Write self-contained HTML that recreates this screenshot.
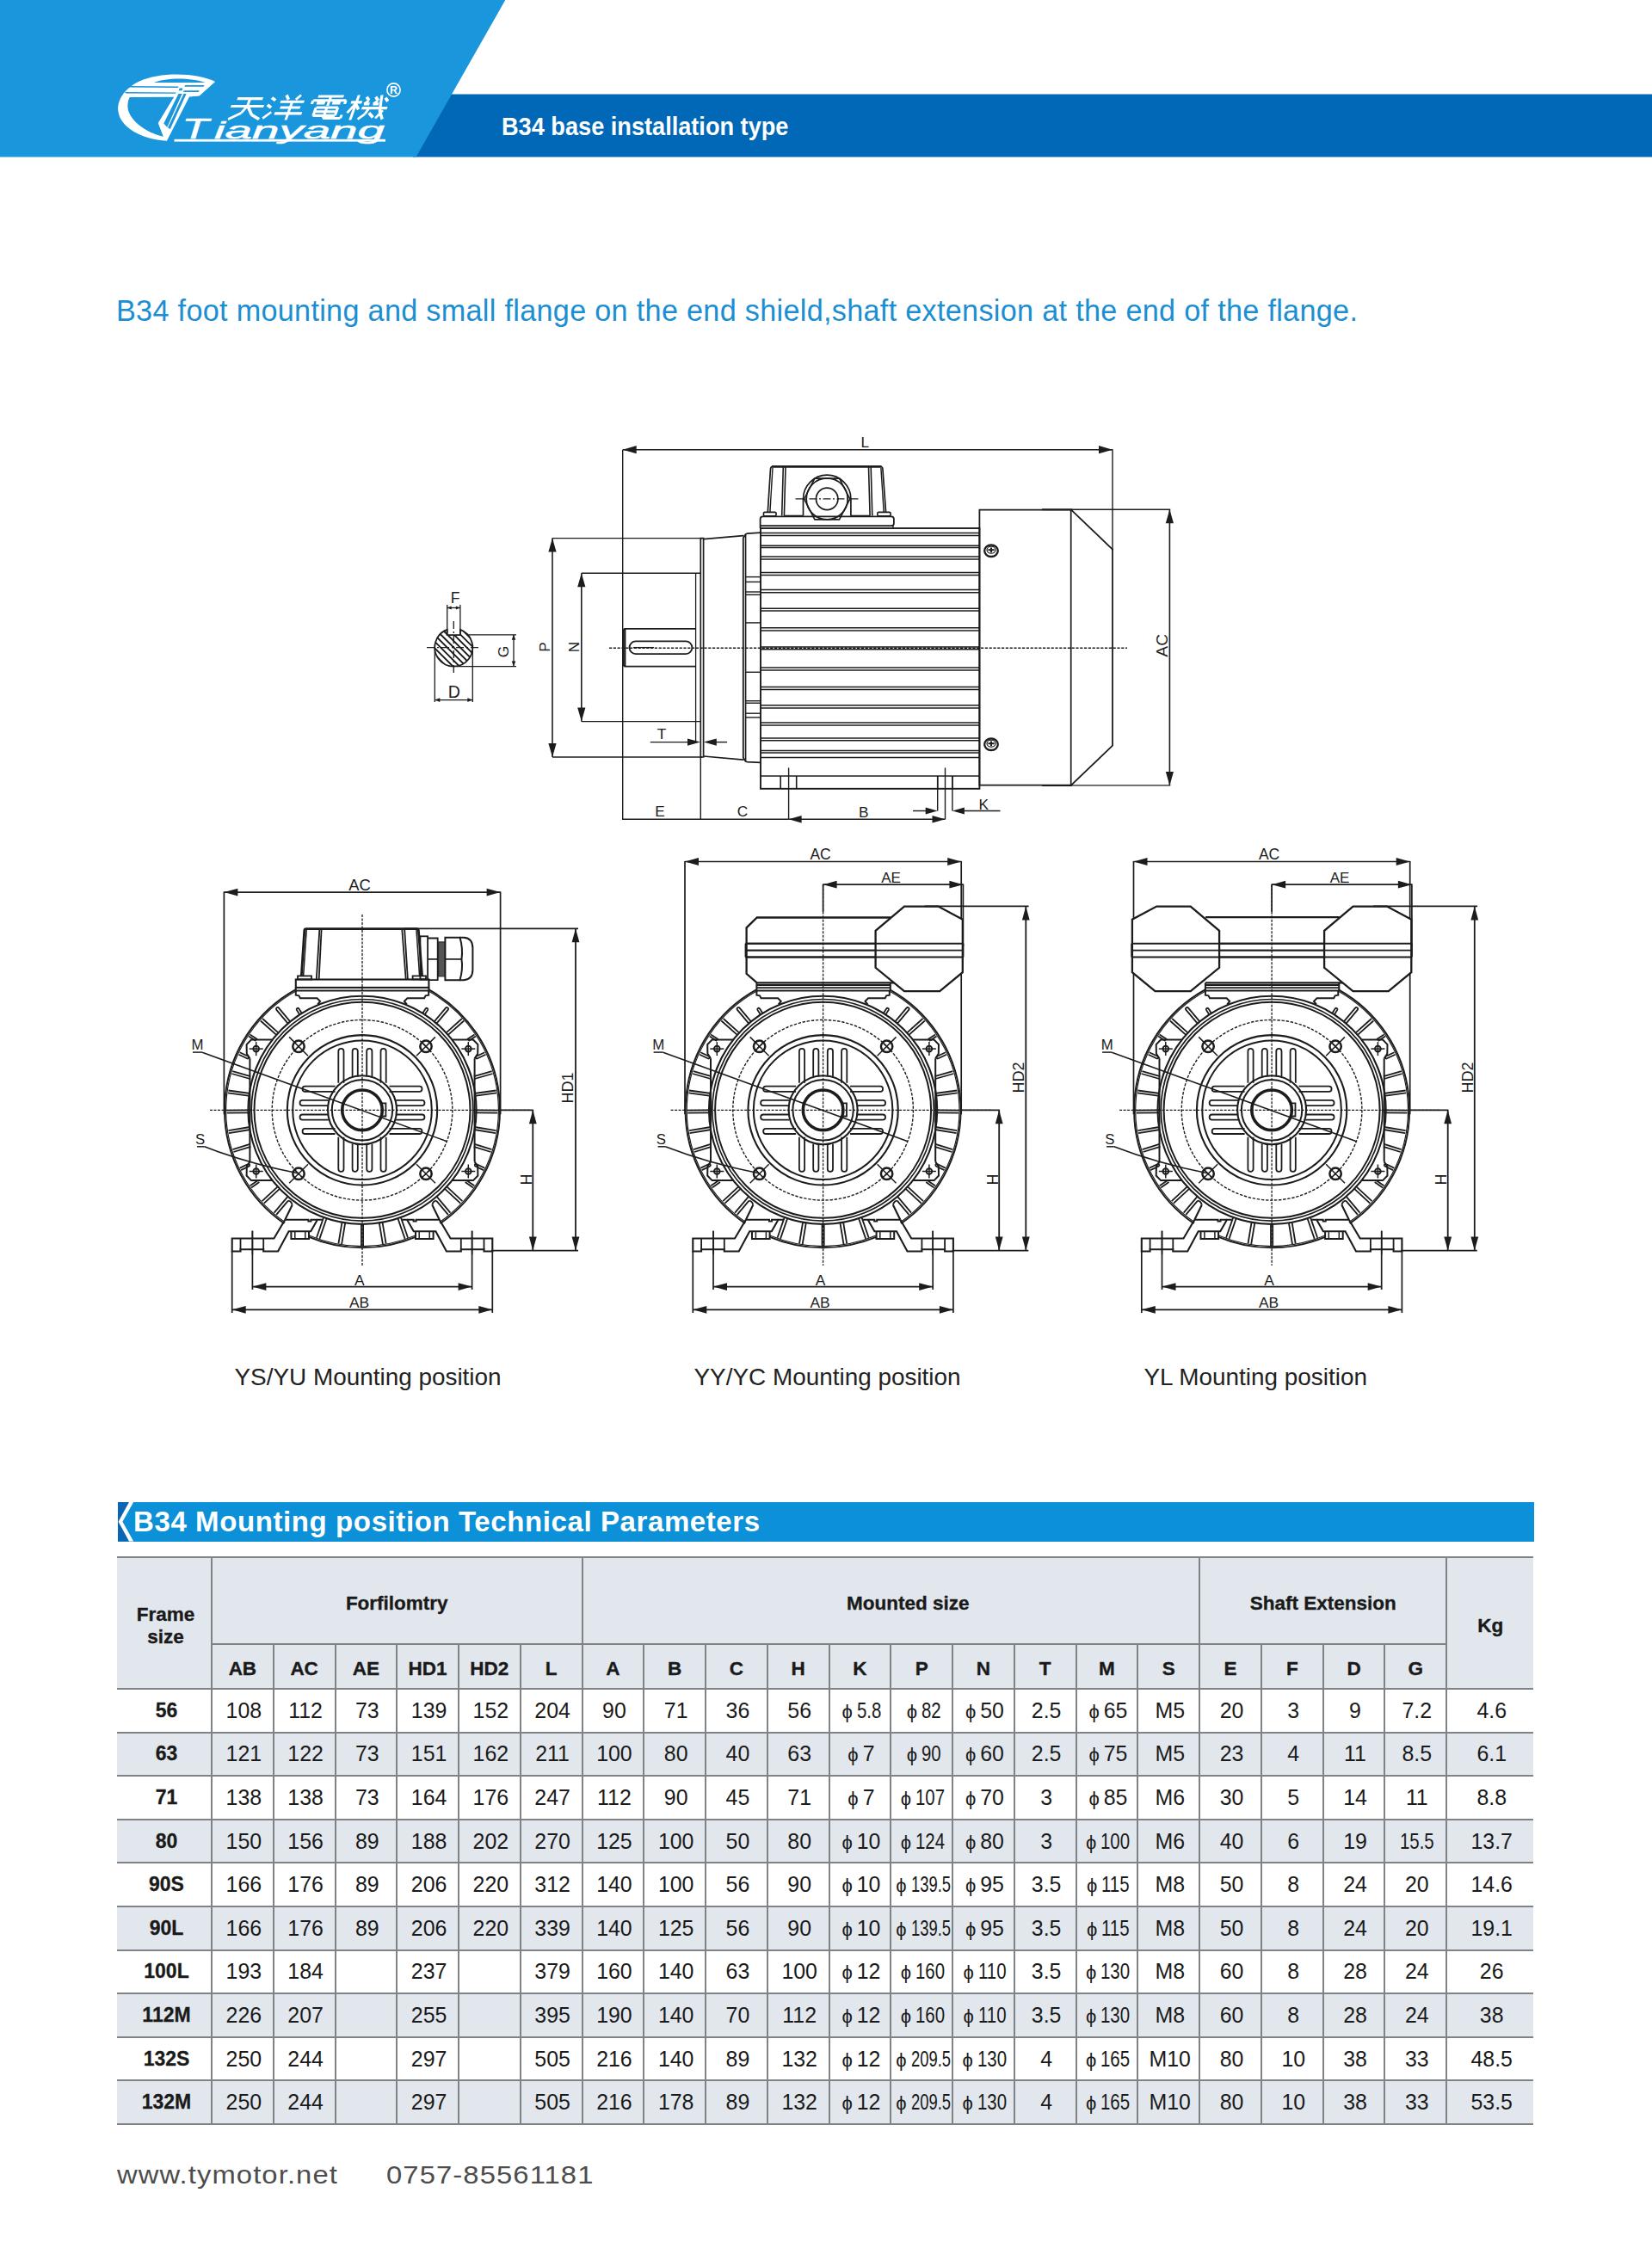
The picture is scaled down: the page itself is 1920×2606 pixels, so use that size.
<!DOCTYPE html>
<html><head><meta charset="utf-8"><title>B34 base installation type</title>
<style>
html,body{margin:0;padding:0;background:#fff}
body{width:1920px;height:2606px;position:relative;overflow:hidden;font-family:"Liberation Sans",sans-serif;color:#1a1a1a}
.abs{position:absolute;white-space:nowrap}
#hdr{position:absolute;left:0;top:0;width:1920px;height:200px}
#hl{left:135px;top:341.5px;font-size:34.2px;line-height:38px;color:#1c8ed2;letter-spacing:.31px}
#band{left:582.5px;top:126.5px;font-size:30px;line-height:40px;font-weight:700;color:#fff;transform-origin:0 50%;transform:scaleX(.905)}
.cap{font-size:27.9px;line-height:30px;color:#222}
#tbar{position:absolute;left:137px;top:1746.4px;width:1645.5px;height:45.3px;background:#0c90d8;overflow:hidden}
#tbar .t{position:absolute;left:18px;top:2.8px;font-size:33px;line-height:40px;font-weight:700;color:#fff;white-space:nowrap;letter-spacing:.6px}
table.tb{position:absolute;left:136px;top:1809px;width:1646px;border-collapse:collapse;table-layout:fixed;border-top:2px solid #808386;border-bottom:2px solid #808386}
.tb th,.tb td{border:2px solid #808386;padding:0;text-align:center;vertical-align:middle;white-space:nowrap;overflow:hidden}
.tb .nl{border-left:none}.tb .nr{border-right:none}
.tb th{background:#e2e7ed;font-weight:700;font-size:22.5px;color:#1a1a1a;-webkit-text-stroke:.35px #1a1a1a;line-height:26.5px}
.tb tr.h1 th{padding-top:7px}.tb tr.h2 th{padding-top:5.5px}.tb th.ms{padding-left:40px}.tb th.fs{padding-top:13px;padding-left:4px}
.tb tr.h1{height:101px}.tb tr.h2{height:52px}
.tb tr.d{height:50.6px}
.tb td{font-size:24.9px;padding-left:3px;color:#1a1a1a;background:#fff}
.tb tr.alt td{background:#e2e7ed}
.tb td.b{font-weight:700;font-size:23px;padding-left:6px;-webkit-text-stroke:.3px #1a1a1a}
.phi{font-size:22px;margin-right:5px}
.pn.nw{display:inline-block;transform:scaleX(.82);transform-origin:0 50%;margin-right:-7px}.pn.nw2{display:inline-block;transform:scaleX(.74);transform-origin:0 50%;margin-right:-17px}
#foot1,#foot2{font-size:30px;color:#4d4d4d;top:2511px;line-height:34px;letter-spacing:1px;transform-origin:0 50%;transform:scaleX(1.093)}
</style></head>
<body>
<svg id="hdr" viewBox="0 0 1920 200">
<rect x="480" y="109.5" width="1440" height="73" fill="#0068b7"/>
<polygon points="0,0 587.3,0 483.6,182.5 0,182.5" fill="#1996dc"/>
<g transform="translate(130 80) scale(0.09685)">
<path fill="#fff" d="M1240 155C1050 55 600 25 330 150C150 235 55 380 78 520C105 700 350 850 660 866L930 335L1050 326Z"/>
<path fill="#1996dc" d="M215 342L745 337L555 650L618 812C400 770 190 600 190 450C190 400 200 368 215 342Z"/>
<path fill="#1996dc" d="M505 166C650 102 950 102 1122 166Z"/>
<path fill="#1996dc" d="M228 206L800 211L795 226L202 222Z"/>
<path fill="#1996dc" d="M152 278L772 283L762 298L172 295Z"/>
<path fill="#1996dc" d="M880 197L1112 197L1100 213L870 213Z"/>
<path fill="#1996dc" d="M866 262L1052 262L1040 279L856 279Z"/>
<path fill="#1996dc" d="M800 300L843 300L664 700L622 656Z"/>
<path fill="#1996dc" d="M862 300L894 300L700 722L672 706Z"/>
<path fill="#1996dc" d="M812 232L850 232L842 262L802 262Z"/>
</g>
<g transform="translate(271 110.5) skewX(-20) scale(1.06 1.04)"><path d="M6 4L34 4M2 12.5L38 12.5M20 4L20 12M20 12L16 20M16 20L4 27M21 13L28 22M28 22L38 27" stroke="#fff" stroke-width="3" fill="none" stroke-linecap="butt"/></g>
<g transform="translate(315 110.5) skewX(-20) scale(1.06 1.04)"><path d="M2 3L7 6M0 11L5 14M0 26L7 19M17 0L21 5M33 0L29 5M13 7.5L39 7.5M15 14L37 14M11 20.5L41 20.5M26 7.5L26 28" stroke="#fff" stroke-width="3" fill="none" stroke-linecap="butt"/></g>
<g transform="translate(363 110.5) skewX(-20) scale(1.06 1.04)"><path d="M7 1.5L35 1.5M3 6L39 6M3 6L3 10M39 6L39 10M21 1.5L21 12M8 9L17 9M25 9L34 9M9 14L33 14M9 14L9 23M33 14L33 23M9 18.5L33 18.5M9 23L33 23M21 14L21 26M21 26L40 26M40 26L40 22" stroke="#fff" stroke-width="3" fill="none" stroke-linecap="butt"/></g>
<g transform="translate(411 110.5) skewX(-20) scale(1.06 1.04)"><path d="M0 8L12 8M6 0L6 28M6 9L0 20M6 10L11 16M15 2L19 6M19 6L15 10M15 10L21 10M25 2L29 6M29 6L25 10M25 10L31 10M14 14.5L42 14.5M31 0L35 18M35 18L41 27M22 15L20 21M20 21L14 27M24 20L30 25M36 3L40 7M38 17L33 26" stroke="#fff" stroke-width="3" fill="none" stroke-linecap="butt"/></g>
<circle cx="457.5" cy="104.5" r="7.6" stroke="#fff" stroke-width="1.6" fill="none"/>
<text x="457.6" y="109" font-size="12.5" font-weight="700" text-anchor="middle" fill="#fff" font-family="Liberation Sans, sans-serif">R</text>
<text x="211.5" y="161" font-size="33.5" font-style="italic" fill="#fff" stroke="#fff" stroke-width="0.6" font-family="Liberation Sans, sans-serif" textLength="31" lengthAdjust="spacingAndGlyphs">T</text>
<text x="249" y="161" font-size="28" font-style="italic" fill="#fff" stroke="#fff" stroke-width="0.5" font-family="Liberation Sans, sans-serif" textLength="198" lengthAdjust="spacingAndGlyphs">ianyang</text>
<rect x="202.5" y="161.8" width="245.5" height="2.8" fill="#fff"/>
</svg>
<div id="band" class="abs">B34 base installation type</div>
<div id="hl" class="abs">B34 foot mounting and small flange on the end shield,shaft extension at the end of the flange.</div>
<svg id="dw" viewBox="0 0 1920 2606" width="1920" height="2606" style="position:absolute;left:0;top:0" fill="none" stroke="#1c1c1c" stroke-linecap="butt" stroke-linejoin="miter">
<style>.t{font-family:"Liberation Sans",sans-serif;fill:#1c1c1c;stroke:none}.a{fill:#1c1c1c;stroke:none}</style>
<clipPath id="hc"><path d="M519.7 738.1L519.7 731.9A22 22 0 1 0 534.9 731.9L534.9 738.1Z"/></clipPath>
<path d="M421.3 722.6L481.3 782.6M428.9 722.6L488.9 782.6M436.5 722.6L496.5 782.6M444.1 722.6L504.1 782.6M451.7 722.6L511.7 782.6M459.3 722.6L519.3 782.6M466.9 722.6L526.9 782.6M474.5 722.6L534.5 782.6M482.1 722.6L542.1 782.6M489.7 722.6L549.7 782.6M497.3 722.6L557.3 782.6M504.9 722.6L564.9 782.6M512.5 722.6L572.5 782.6M520.1 722.6L580.1 782.6M527.7 722.6L587.7 782.6M535.3 722.6L595.3 782.6M542.9 722.6L602.9 782.6M550.5 722.6L610.5 782.6M558.1 722.6L618.1 782.6M565.7 722.6L625.7 782.6M573.3 722.6L633.3 782.6" stroke-width="1.9" clip-path="url(#hc)"/>
<path d="M519.7 738.1L519.7 731.9A22 22 0 1 0 534.9 731.9L534.9 738.1Z" stroke-width="1.8"/>
<path d="M496 752.6L558 752.6" stroke-width="1.3" stroke-dasharray="9 3 2 3"/>
<path d="M527.3 722L527.3 783" stroke-width="1.3" stroke-dasharray="9 3 2 3"/>
<path d="M519.7 737.6L519.7 703" stroke-width="1.3"/>
<path d="M534.9 737.6L534.9 703" stroke-width="1.3"/>
<path d="M519.7 706.5L534.9 706.5" stroke-width="1.3"/>
<path d="M519.7 706.5L524.7 704.5L524.7 708.5Z" class="a"/>
<path d="M534.9 706.5L529.9 708.5L529.9 704.5Z" class="a"/>
<text x="529" y="700.6" font-size="17.6" text-anchor="middle" class="t">F</text>
<path d="M545 737.8L600 737.8" stroke-width="1.3"/>
<path d="M531 774.6L600 774.6" stroke-width="1.3"/>
<path d="M597 737.8L597 774.6" stroke-width="1.3"/>
<path d="M597 737.8L599.3 743.8L594.7 743.8Z" class="a"/>
<path d="M597 774.6L594.7 768.6L599.3 768.6Z" class="a"/>
<text x="591" y="757.6" font-size="17.4" text-anchor="middle" transform="rotate(-90 591 757.6)" class="t">G</text>
<path d="M505.3 752.6L505.3 816" stroke-width="1.3"/>
<path d="M549.3 752.6L549.3 816" stroke-width="1.3"/>
<path d="M505.3 813.6L549.3 813.6" stroke-width="1.3"/>
<path d="M505.3 813.6L511.3 811.3L511.3 815.9Z" class="a"/>
<path d="M549.3 813.6L543.3 815.9L543.3 811.3Z" class="a"/>
<text x="527.8" y="810.8" font-size="19.6" text-anchor="middle" class="t">D</text>
<path d="M723.7 522.9L723.7 953" stroke-width="1.4"/>
<path d="M1293 522.3L1293 640" stroke-width="1.4"/>
<path d="M723.7 522.7L1293 522.7" stroke-width="1.4"/>
<path d="M723.7 522.7L739.7 518.1L739.7 527.3Z" class="a"/>
<path d="M1293 522.7L1277 527.3L1277 518.1Z" class="a"/>
<text x="1005.4" y="519.8" font-size="17.3" text-anchor="middle" class="t">L</text>
<path d="M642 625.6L816 625.6" stroke-width="1.4"/>
<path d="M642 880L816 880" stroke-width="1.4"/>
<path d="M642 625.6L642 880" stroke-width="1.6"/>
<path d="M642 625.6L646.6 641.6L637.4 641.6Z" class="a"/>
<path d="M642 880L637.4 864L646.6 864Z" class="a"/>
<text x="638.5" y="752" font-size="17.3" text-anchor="middle" transform="rotate(-90 638.5 752)" class="t">P</text>
<path d="M675.8 666.3L814 666.3" stroke-width="1.4"/>
<path d="M675.8 838.6L814 838.6" stroke-width="1.4"/>
<path d="M675.8 666.3L675.8 838.6" stroke-width="1.6"/>
<path d="M675.8 666.3L680.4 682.3L671.2 682.3Z" class="a"/>
<path d="M675.8 838.6L671.2 822.6L680.4 822.6Z" class="a"/>
<text x="673" y="752" font-size="17.3" text-anchor="middle" transform="rotate(-90 673 752)" class="t">N</text>
<path d="M808.6 730.9L726 730.9L724.5 732.4L724.5 773.1L726 774.6L808.6 774.6" stroke-width="1.8"/>
<path d="M726.3 731L726.3 774.6" stroke-width="2.2"/>
<rect x="731.5" y="745.4" width="72.9" height="14.7" rx="7.3" stroke-width="1.8"/>
<path d="M736 752.6L760 752.6" stroke-width="1.3"/>
<path d="M808.6 666L808.6 863" stroke-width="1.3"/>
<path d="M814.3 625.6L817.6 625.6L817.6 880L814.3 880Z" stroke-width="1.7"/>
<path d="M814.3 880L814.3 953" stroke-width="1.4"/>
<path d="M817.6 626.6L864 622.6" stroke-width="1.7"/>
<path d="M817.6 879L864 883.2" stroke-width="1.7"/>
<path d="M884 619.2L868.5 620.1Q866.3 620.4 865.4 622.5L863.8 625.5L863.8 880.5L865.4 883.5Q866.3 885.5 868.5 885.7L884 886.4" stroke-width="1.8"/>
<path d="M866.6 621L866.6 885" stroke-width="1.6"/>
<path d="M866.6 670.6L884 670.6" stroke-width="1.4"/>
<path d="M866.6 676.4L884 676.4" stroke-width="1.4"/>
<path d="M866.6 688L884 688" stroke-width="1.4"/>
<path d="M866.6 691.3L884 691.3" stroke-width="1.4"/>
<path d="M866.6 723.9L884 723.9" stroke-width="1.4"/>
<path d="M866.6 781.3L884 781.3" stroke-width="1.4"/>
<path d="M866.6 814.7L884 814.7" stroke-width="1.4"/>
<path d="M866.6 817.2L884 817.2" stroke-width="1.4"/>
<path d="M866.6 829.2L884 829.2" stroke-width="1.4"/>
<path d="M866.6 833.9L884 833.9" stroke-width="1.4"/>
<path d="M755.7 862.6L800 862.6" stroke-width="1.4"/>
<path d="M814 862.6L799 866.8L799 858.4Z" class="a"/>
<path d="M832 862.6L845 862.6" stroke-width="1.4"/>
<path d="M817.8 862.6L832.8 858.4L832.8 866.8Z" class="a"/>
<text x="769" y="858.5" font-size="17.3" text-anchor="middle" class="t">T</text>
<path d="M708 753.2L1310 753.2" stroke-width="1.4" stroke-dasharray="3.2 1.6"/>
<rect x="884" y="614" width="254.4" height="302.8" rx="0" stroke-width="1.9"/>
<path d="M884 619.4L1138.4 619.4" stroke-width="1.5"/>
<path d="M884 622.5L1138.4 622.5" stroke-width="1.5"/>
<path d="M884 634.3L1138.4 634.3" stroke-width="1.5"/>
<path d="M884 636.5L1138.4 636.5" stroke-width="1.5"/>
<path d="M884 647L1138.4 647" stroke-width="1.5"/>
<path d="M884 649.9L1138.4 649.9" stroke-width="1.5"/>
<path d="M884 665.5L1138.4 665.5" stroke-width="1.5"/>
<path d="M884 668.4L1138.4 668.4" stroke-width="1.5"/>
<path d="M884 685.4L1138.4 685.4" stroke-width="1.5"/>
<path d="M884 688.7L1138.4 688.7" stroke-width="1.5"/>
<path d="M884 707.2L1138.4 707.2" stroke-width="1.5"/>
<path d="M884 710.1L1138.4 710.1" stroke-width="1.5"/>
<path d="M884 729.8L1138.4 729.8" stroke-width="1.5"/>
<path d="M884 732.9L1138.4 732.9" stroke-width="1.5"/>
<path d="M884 751.9L1138.4 751.9" stroke-width="1.5"/>
<path d="M884 754.8L1138.4 754.8" stroke-width="1.5"/>
<path d="M884 775.9L1138.4 775.9" stroke-width="1.5"/>
<path d="M884 778.9L1138.4 778.9" stroke-width="1.5"/>
<path d="M884 798.4L1138.4 798.4" stroke-width="1.5"/>
<path d="M884 801.6L1138.4 801.6" stroke-width="1.5"/>
<path d="M884 819.8L1138.4 819.8" stroke-width="1.5"/>
<path d="M884 823L1138.4 823" stroke-width="1.5"/>
<path d="M884 840L1138.4 840" stroke-width="1.5"/>
<path d="M884 843L1138.4 843" stroke-width="1.5"/>
<path d="M884 858.1L1138.4 858.1" stroke-width="1.5"/>
<path d="M884 860.8L1138.4 860.8" stroke-width="1.5"/>
<path d="M884 872.4L1138.4 872.4" stroke-width="1.5"/>
<path d="M884 875L1138.4 875" stroke-width="1.5"/>
<path d="M884 880.4L1138.4 880.4" stroke-width="1.5"/>
<path d="M884 901.9L1138.4 901.9" stroke-width="1.5"/>
<path d="M907.2 901.9L907.2 916.8" stroke-width="1.6"/>
<path d="M925.7 901.9L925.7 916.8" stroke-width="1.6"/>
<path d="M1089.7 901.9L1089.7 916.8" stroke-width="1.6"/>
<path d="M1106.9 901.9L1106.9 916.8" stroke-width="1.6"/>
<path d="M883.6 613.9L883.6 603.3Q883.6 600.3 886.6 600.3L1035.9 600.3Q1038.9 600.3 1038.9 603.3L1038.9 608.2Q1038.9 611.2 1035.9 611.2L883.6 611.2" stroke-width="1.8"/>
<path d="M1038 611.2L1038 613.9" stroke-width="1.4"/>
<rect x="887.4" y="595.4" width="14.7" height="4.4" rx="1.5" stroke-width="1.6"/>
<rect x="1019.8" y="595.4" width="15.3" height="4.4" rx="1.5" stroke-width="1.6"/>
<path d="M892.3 595.4L895.5 545Q895.8 542 899 542L1022.4 542Q1025.6 542 1025.9 545L1029.6 595.4" stroke-width="1.7"/>
<path d="M897 542.3L1024.4 542.3" stroke-width="2.8"/>
<path d="M898 544L894.9 595.4" stroke-width="1.4"/>
<path d="M1023.9 544L1027.2 595.4" stroke-width="1.4"/>
<path d="M910.3 543L908.7 599.5" stroke-width="1.6"/>
<path d="M913 543L911.4 599.5" stroke-width="1.6"/>
<path d="M1009.5 543L1011.1 599.5" stroke-width="1.6"/>
<path d="M1012.2 543L1013.8 599.5" stroke-width="1.6"/>
<path d="M911.4 599.5L933.2 599.5" stroke-width="1.6"/>
<path d="M988.8 599.5L1011.1 599.5" stroke-width="1.6"/>
<path d="M933.5 599.5L933.5 579.9A27.7 27.7 0 0 1 988.9 579.9L988.9 599.5" stroke-width="1.7"/>
<path d="M946.9 556.1L975.5 556.1L987.8 579.9L975.5 603.9L946.9 603.9L934.6 579.9Z" stroke-width="1.6"/>
<circle cx="961.2" cy="579.9" r="24" stroke-width="1.7"/>
<circle cx="961.2" cy="579.9" r="12.7" stroke-width="1.7"/>
<path d="M924.5 579.9L997.5 579.9" stroke-width="1.4" stroke-dasharray="9 2.5 2 2.5"/>
<path d="M1138.4 592.6L1245 592.6L1293 638.6L1293 866.6L1245 912.6L1138.4 912.6Z" stroke-width="1.8"/>
<path d="M1244.7 592.6L1244.7 912.6" stroke-width="1.7"/>
<path d="M1211 592.3L1246 592.3" stroke-width="2"/>
<path d="M1211 912.9L1246 912.9" stroke-width="2"/>
<ellipse cx="1152" cy="640.2" rx="7.8" ry="6.8" stroke-width="2.3"/>
<ellipse cx="1152" cy="639.2" rx="5" ry="4" stroke-width="1.2"/>
<path d="M1148.4 639.2L1155.6 639.2" stroke-width="2"/>
<path d="M1152 636.4L1152 642" stroke-width="2"/>
<ellipse cx="1152" cy="865.2" rx="7.8" ry="6.8" stroke-width="2.3"/>
<ellipse cx="1152" cy="864.2" rx="5" ry="4" stroke-width="1.2"/>
<path d="M1148.4 864.2L1155.6 864.2" stroke-width="2"/>
<path d="M1152 861.4L1152 867" stroke-width="2"/>
<path d="M1245 592.3L1360.2 592.3" stroke-width="1.4"/>
<path d="M1245 912.9L1360.2 912.9" stroke-width="1.4"/>
<path d="M1359.4 592.3L1359.4 912.9" stroke-width="1.6"/>
<path d="M1359.4 592.3L1364 608.3L1354.8 608.3Z" class="a"/>
<path d="M1359.4 912.9L1354.8 896.9L1364 896.9Z" class="a"/>
<text x="1357.2" y="750.3" font-size="19.2" text-anchor="middle" transform="rotate(-90 1357.2 750.3)" class="t">AC</text>
<path d="M723.7 952.3L814.3 952.3" stroke-width="1.4"/>
<path d="M814.3 952.3L916.6 952.3" stroke-width="1.4"/>
<path d="M916.6 892.4L916.6 952.3" stroke-width="1.4"/>
<path d="M1098.5 892.4L1098.5 952.3" stroke-width="1.4"/>
<path d="M916.6 952.3L1098.5 952.3" stroke-width="1.4"/>
<path d="M916.6 952.3L931.6 948.1L931.6 956.5Z" class="a"/>
<path d="M1098.5 952.3L1083.5 956.5L1083.5 948.1Z" class="a"/>
<text x="767" y="949.4" font-size="17.3" text-anchor="middle" class="t">E</text>
<text x="863" y="949.4" font-size="17.3" text-anchor="middle" class="t">C</text>
<text x="1003.8" y="950.2" font-size="17.3" text-anchor="middle" class="t">B</text>
<text x="1143.3" y="941" font-size="17.3" text-anchor="middle" class="t">K</text>
<path d="M1089.7 902.1L1089.7 942.5" stroke-width="1.4"/>
<path d="M1106.9 902.1L1106.9 942.5" stroke-width="1.4"/>
<path d="M1061 942.5L1076 942.5" stroke-width="1.4"/>
<path d="M1089.7 942.5L1075.7 946.5L1075.7 938.5Z" class="a"/>
<path d="M1120 942.5L1162.5 942.5" stroke-width="1.4"/>
<path d="M1106.9 942.5L1120.9 938.5L1120.9 946.5Z" class="a"/>
<circle cx="421" cy="1290.3" r="132.6" stroke-width="2.1"/>
<circle cx="421" cy="1290.3" r="128.8" stroke-width="1.7"/>
<circle cx="421" cy="1290.3" r="125.5" stroke-width="2"/>
<circle cx="421" cy="1290.3" r="104.8" stroke-width="1.4" stroke-dasharray="3.4 1.7"/>
<circle cx="421" cy="1290.3" r="87.2" stroke-width="2.1"/>
<circle cx="421" cy="1290.3" r="80.8" stroke-width="2"/>
<circle cx="421" cy="1290.3" r="40" stroke-width="2.1"/>
<circle cx="421" cy="1290.3" r="35.2" stroke-width="2"/>
<circle cx="421" cy="1290.3" r="23.3" stroke-width="3.6"/>
<path d="M443 1282.3L448.4 1282.3L448.4 1297.5L443 1297.5" stroke-width="1.8"/>
<path d="M393.3 1258.8L393.3 1221.9A3.1 3.1 0 0 1 399.5 1221.9L399.5 1258.8" stroke-width="1.8"/>
<path d="M393.3 1321.8L393.3 1358.7A3.1 3.1 0 0 0 399.5 1358.7L399.5 1321.8" stroke-width="1.8"/>
<path d="M409.6 1251.2L409.6 1221.9A3.1 3.1 0 0 1 415.8 1221.9L415.8 1251.2" stroke-width="1.8"/>
<path d="M409.6 1329.4L409.6 1358.7A3.1 3.1 0 0 0 415.8 1358.7L415.8 1329.4" stroke-width="1.8"/>
<path d="M426.2 1251.2L426.2 1221.9A3.1 3.1 0 0 1 432.4 1221.9L432.4 1251.2" stroke-width="1.8"/>
<path d="M426.2 1329.4L426.2 1358.7A3.1 3.1 0 0 0 432.4 1358.7L432.4 1329.4" stroke-width="1.8"/>
<path d="M442.5 1258.8L442.5 1221.9A3.1 3.1 0 0 1 448.7 1221.9L448.7 1258.8" stroke-width="1.8"/>
<path d="M442.5 1321.8L442.5 1358.7A3.1 3.1 0 0 0 448.7 1358.7L448.7 1321.8" stroke-width="1.8"/>
<path d="M389.5 1262.6L354.6 1262.6A3.1 3.1 0 0 0 354.6 1268.8L389.5 1268.8" stroke-width="1.8"/>
<path d="M452.5 1262.6L487.4 1262.6A3.1 3.1 0 0 1 487.4 1268.8L452.5 1268.8" stroke-width="1.8"/>
<path d="M381.9 1278.9L351.6 1278.9A3.1 3.1 0 0 0 351.6 1285.1L381.9 1285.1" stroke-width="1.8"/>
<path d="M460.1 1278.9L490.4 1278.9A3.1 3.1 0 0 1 490.4 1285.1L460.1 1285.1" stroke-width="1.8"/>
<path d="M381.9 1295.5L351.6 1295.5A3.1 3.1 0 0 0 351.6 1301.7L381.9 1301.7" stroke-width="1.8"/>
<path d="M460.1 1295.5L490.4 1295.5A3.1 3.1 0 0 1 490.4 1301.7L460.1 1301.7" stroke-width="1.8"/>
<path d="M389.5 1311.8L354.6 1311.8A3.1 3.1 0 0 0 354.6 1318L389.5 1318" stroke-width="1.8"/>
<path d="M452.5 1311.8L487.4 1311.8A3.1 3.1 0 0 1 487.4 1318L452.5 1318" stroke-width="1.8"/>
<circle cx="495" cy="1364.3" r="6.7" stroke-width="2.5"/>
<path d="M484 1353.3L505.9 1375.2" stroke-width="1.5"/>
<path d="M499.7 1359.5L490.2 1369" stroke-width="1.5"/>
<circle cx="347" cy="1364.3" r="6.7" stroke-width="2.5"/>
<path d="M358 1353.3L336.1 1375.2" stroke-width="1.5"/>
<path d="M351.8 1369L342.3 1359.5" stroke-width="1.5"/>
<circle cx="347" cy="1216.3" r="6.7" stroke-width="2.5"/>
<path d="M358 1227.3L336.1 1205.4" stroke-width="1.5"/>
<path d="M342.3 1221.1L351.8 1211.6" stroke-width="1.5"/>
<circle cx="495" cy="1216.3" r="6.7" stroke-width="2.5"/>
<path d="M484 1227.3L505.9 1205.4" stroke-width="1.5"/>
<path d="M490.2 1211.6L499.7 1221.1" stroke-width="1.5"/>
<path d="M343.4 1150.4A160 160 0 0 0 330.4 1422.2" stroke-width="1.9"/>
<path d="M498.6 1150.4A160 160 0 0 1 511.6 1422.2" stroke-width="1.9"/>
<path d="M358.5 1437.6A160 160 0 0 0 483.5 1437.6" stroke-width="1.9"/>
<path d="M344.3 1151.8A158.3 158.3 0 0 0 331.3 1420.8" stroke-width="1.2"/>
<path d="M497.7 1151.8A158.3 158.3 0 0 1 510.7 1420.8" stroke-width="1.2"/>
<path d="M359.1 1436A158.3 158.3 0 0 0 482.9 1436" stroke-width="1.2"/>
<path d="M290.4 1230.2L286.8 1224.8L286.6 1214.1L292 1208.5L316.4 1208.5" stroke-width="2"/>
<path d="M551.6 1230.2L555.2 1224.8L555.4 1214.1L550 1208.5L525.6 1208.5" stroke-width="2"/>
<path d="M290.4 1350.4L286.8 1355.8L286.6 1366.5L292 1372.1L316.4 1372.1" stroke-width="2"/>
<path d="M551.6 1350.4L555.2 1355.8L555.4 1366.5L550 1372.1L525.6 1372.1" stroke-width="2"/>
<path d="M290.4 1230.2L290.4 1350.4" stroke-width="2"/>
<path d="M551.6 1230.2L551.6 1350.4" stroke-width="2"/>
<circle cx="297.7" cy="1219.1" r="3.3" stroke-width="2"/>
<path d="M289.7 1219.1L305.7 1219.1" stroke-width="1.5"/>
<path d="M297.7 1211.1L297.7 1227.1" stroke-width="1.5"/>
<circle cx="297.7" cy="1361.5" r="3.3" stroke-width="2"/>
<path d="M289.7 1361.5L305.7 1361.5" stroke-width="1.5"/>
<path d="M297.7 1353.5L297.7 1369.5" stroke-width="1.5"/>
<circle cx="544.3" cy="1219.1" r="3.3" stroke-width="2"/>
<path d="M536.3 1219.1L552.3 1219.1" stroke-width="1.5"/>
<path d="M544.3 1211.1L544.3 1227.1" stroke-width="1.5"/>
<circle cx="544.3" cy="1361.5" r="3.3" stroke-width="2"/>
<path d="M536.3 1361.5L552.3 1361.5" stroke-width="1.5"/>
<path d="M544.3 1353.5L544.3 1369.5" stroke-width="1.5"/>
<path d="M290.4 1254L269.5 1248M291.2 1251.2L270.3 1245.1" stroke-width="1.8"/>
<path d="M290.4 1273.9L265 1270.4M290.8 1271L265.4 1267.5" stroke-width="1.8"/>
<path d="M290.4 1293.4L263.7 1293.7M290.4 1290.4L263.7 1290.7" stroke-width="1.8"/>
<path d="M290.9 1313L266 1317.1M290.4 1310L265.5 1314.1" stroke-width="1.8"/>
<path d="M291.3 1332.8L271.4 1339M290.4 1329.9L270.5 1336.2" stroke-width="1.8"/>
<path d="M277.5 1225.8L287.1 1230.3A1.4 1.4 0 0 0 288.3 1227.7L278.7 1223.3" stroke-width="1.8"/>
<path d="M280.1 1360.1L289.6 1355.5A1.4 1.4 0 0 0 288.4 1353L278.8 1357.6" stroke-width="1.8"/>
<path d="M297.5 1210.1L289.1 1204.6M299 1208L290.5 1202.4" stroke-width="1.8"/>
<path d="M301.4 1374.1L292.1 1380.5M299.9 1371.9L290.6 1378.3" stroke-width="1.8"/>
<path d="M320.9 1202.7L302.8 1186.5M323.1 1200.2L305.1 1184" stroke-width="1.8"/>
<path d="M324.7 1382.1L306.9 1398.6M322.4 1379.6L304.6 1396.1" stroke-width="1.8"/>
<path d="M334.4 1189.4L321.4 1173.8A1.7 1.7 0 0 1 324 1171.6L337 1187.2" stroke-width="1.8"/>
<path d="M348.1 1179.1L344.8 1173.9A1.5 1.5 0 0 1 347.3 1172.3L350.6 1177.4" stroke-width="1.8"/>
<path d="M550.8 1251.2L571.7 1245.1M551.6 1254L572.5 1248" stroke-width="1.8"/>
<path d="M551.2 1271L576.6 1267.5M551.6 1273.9L577 1270.4" stroke-width="1.8"/>
<path d="M551.6 1290.4L578.3 1290.7M551.6 1293.4L578.3 1293.7" stroke-width="1.8"/>
<path d="M551.6 1310L576.5 1314.1M551.1 1313L576 1317.1" stroke-width="1.8"/>
<path d="M551.6 1329.9L571.5 1336.2M550.7 1332.8L570.6 1339" stroke-width="1.8"/>
<path d="M563.3 1223.3L553.7 1227.7A1.4 1.4 0 0 0 554.9 1230.3L564.5 1225.8" stroke-width="1.8"/>
<path d="M563.2 1357.6L553.6 1353A1.4 1.4 0 0 0 552.4 1355.5L561.9 1360.1" stroke-width="1.8"/>
<path d="M543 1208L551.5 1202.4M544.5 1210.1L552.9 1204.6" stroke-width="1.8"/>
<path d="M542.1 1371.9L551.4 1378.3M540.6 1374.1L549.9 1380.5" stroke-width="1.8"/>
<path d="M518.9 1200.2L536.9 1184M521.1 1202.7L539.2 1186.5" stroke-width="1.8"/>
<path d="M519.6 1379.6L537.4 1396.1M517.3 1382.1L535.1 1398.6" stroke-width="1.8"/>
<path d="M505 1187.2L518 1171.6A1.7 1.7 0 0 1 520.6 1173.8L507.6 1189.4" stroke-width="1.8"/>
<path d="M491.4 1177.4L494.7 1172.3A1.5 1.5 0 0 1 497.2 1173.9L493.9 1179.1" stroke-width="1.8"/>
<path d="M334.2 1391.1L318.6 1409.7" stroke-width="1.8"/>
<path d="M334.9 1395.6L321.2 1411.9" stroke-width="1.8"/>
<path d="M334.9 1395.6Q338.6 1395.9 339.7 1400.5" stroke-width="1.8"/>
<path d="M507.8 1391.1L523.4 1409.7" stroke-width="1.8"/>
<path d="M507.1 1395.6L520.8 1411.9" stroke-width="1.8"/>
<path d="M507.1 1395.6Q503.4 1395.9 502.3 1400.5" stroke-width="1.8"/>
<path d="M379.4 1416.8L371.4 1439.9" stroke-width="1.8"/>
<path d="M375.9 1415.6L367.9 1438.7" stroke-width="1.8"/>
<path d="M401.1 1422L397.1 1446.1" stroke-width="1.8"/>
<path d="M397.4 1421.4L393.4 1445.5" stroke-width="1.8"/>
<path d="M444.6 1421.4L448.6 1445.5" stroke-width="1.8"/>
<path d="M440.9 1422L444.9 1446.1" stroke-width="1.8"/>
<path d="M466.1 1415.6L474.1 1438.7" stroke-width="1.8"/>
<path d="M462.6 1416.8L470.6 1439.9" stroke-width="1.8"/>
<path d="M422.1 1423.5L422.1 1447.9" stroke-width="1.8"/>
<path d="M419.9 1423.5L419.9 1447.9" stroke-width="1.8"/>
<path d="M339.7 1400.5L331.4 1417.5L318.4 1439.5L269.7 1439.5L269.7 1454.5L279.5 1454.5L279.5 1452.3L306.2 1452.3L306.2 1454.5L323.1 1454.5L335.6 1431.3L361.2 1431.3L368.9 1417.7L374.6 1417.7" stroke-width="2.1"/>
<path d="M502.3 1400.5L510.6 1417.5L523.6 1439.5L572.3 1439.5L572.3 1454.5L562.5 1454.5L562.5 1452.3L535.8 1452.3L535.8 1454.5L518.9 1454.5L506.4 1431.3L480.8 1431.3L473.1 1417.7L467.4 1417.7" stroke-width="2.1"/>
<path d="M331.4 1417.7L358.4 1417.7L358.4 1419.5L361.4 1419.5L361.4 1417.7L368.9 1417.7" stroke-width="2"/>
<path d="M510.6 1417.7L483.6 1417.7L483.6 1419.5L480.6 1419.5L480.6 1417.7L473.1 1417.7" stroke-width="2"/>
<path d="M279.5 1439.5L279.5 1452.3" stroke-width="1.8"/>
<path d="M562.5 1439.5L562.5 1452.3" stroke-width="1.8"/>
<path d="M306.2 1439.5L306.2 1452.3" stroke-width="1.8"/>
<path d="M535.8 1439.5L535.8 1452.3" stroke-width="1.8"/>
<path d="M338.4 1432.1L338.4 1439.9L359 1439.9L359 1432.1" stroke-width="2"/>
<path d="M503.6 1432.1L503.6 1439.9L483 1439.9L483 1432.1" stroke-width="2"/>
<path d="M342.8 1432.1L342.8 1439.9" stroke-width="1.5"/>
<path d="M499.2 1432.1L499.2 1439.9" stroke-width="1.5"/>
<path d="M354.8 1432.1L354.8 1439.9" stroke-width="1.5"/>
<path d="M487.2 1432.1L487.2 1439.9" stroke-width="1.5"/>
<path d="M293.4 1430.7L293.4 1458.3" stroke-width="1.5"/>
<path d="M548.6 1430.7L548.6 1458.3" stroke-width="1.5"/>
<path d="M343.8 1151.3L343.8 1156.7L347.4 1157.3L348.9 1160.2L368.5 1160.2L372.1 1163.9L369.2 1167.5" stroke-width="2"/>
<path d="M498.2 1151.3L498.2 1156.7L494.6 1157.3L493.1 1160.2L473.5 1160.2L469.9 1163.9L472.8 1167.5" stroke-width="2"/>
<path d="M244 1290.3L617 1290.3" stroke-width="1.3" stroke-dasharray="3 1.5"/>
<path d="M260.4 1036.6L260.4 1295.3" stroke-width="1.7"/>
<path d="M581.6 1036.6L581.6 1295.3" stroke-width="1.7"/>
<path d="M260.4 1037.1L581.6 1037.1" stroke-width="1.7"/>
<path d="M260.4 1037.1L276.4 1032.7L276.4 1041.5Z" class="a"/>
<path d="M581.6 1037.1L565.6 1041.5L565.6 1032.7Z" class="a"/>
<text x="418" y="1034.6" font-size="18.4" text-anchor="middle" class="t">AC</text>
<path d="M581 1290.3L619.9 1290.3" stroke-width="1.7"/>
<path d="M571 1453.6L672 1453.6" stroke-width="1.7"/>
<path d="M619.3 1290.3L619.3 1453.6" stroke-width="1.8"/>
<path d="M619.3 1290.3L623.7 1306.3L614.9 1306.3Z" class="a"/>
<path d="M619.3 1453.6L614.9 1437.6L623.7 1437.6Z" class="a"/>
<text x="617.9" y="1371" font-size="18" text-anchor="middle" transform="rotate(-90 617.9 1371)" class="t">H</text>
<path d="M669 1079.3L669 1453.6" stroke-width="1.8"/>
<path d="M669 1079.3L673.4 1095.3L664.6 1095.3Z" class="a"/>
<path d="M669 1453.6L664.6 1437.6L673.4 1437.6Z" class="a"/>
<text x="666" y="1264.5" font-size="18" text-anchor="middle" transform="rotate(-90 666 1264.5)" class="t">HD1</text>
<path d="M293.4 1430.7L293.4 1499" stroke-width="1.7"/>
<path d="M548.6 1430.7L548.6 1499" stroke-width="1.7"/>
<path d="M293.4 1495.6L548.6 1495.6" stroke-width="1.7"/>
<path d="M293.4 1495.6L309.4 1491.2L309.4 1500Z" class="a"/>
<path d="M548.6 1495.6L532.6 1500L532.6 1491.2Z" class="a"/>
<text x="417.9" y="1493.5" font-size="17.4" text-anchor="middle" class="t">A</text>
<path d="M269.7 1454L269.7 1526" stroke-width="1.7"/>
<path d="M572.3 1454L572.3 1526" stroke-width="1.7"/>
<path d="M269.7 1522.3L572.3 1522.3" stroke-width="1.7"/>
<path d="M269.7 1522.3L285.7 1517.9L285.7 1526.7Z" class="a"/>
<path d="M572.3 1522.3L556.3 1526.7L556.3 1517.9Z" class="a"/>
<text x="417.5" y="1520.1" font-size="17.4" text-anchor="middle" class="t">AB</text>
<text x="229.6" y="1220.4" font-size="16.8" text-anchor="middle" class="t">M</text>
<path d="M224 1223.1L235.1 1223.1" stroke-width="1.5"/>
<path d="M235.1 1223.2L519.5 1326.7" stroke-width="1.6"/>
<text x="232.7" y="1329.8" font-size="16.8" text-anchor="middle" class="t">S</text>
<path d="M229 1332.8L237.7 1332.8" stroke-width="1.5"/>
<path d="M237.7 1332.8Q287.7 1352.2 346.5 1363.8" stroke-width="1.6"/>
<path d="M421 1063L421 1471" stroke-width="1.3" stroke-dasharray="3 1.5"/>
<rect x="343.8" y="1138.5" width="154.6" height="9.4" rx="0" stroke-width="2.1"/>
<path d="M343.8 1151.4L498.4 1151.4" stroke-width="2"/>
<path d="M343.8 1147.9L343.8 1151.4" stroke-width="2"/>
<path d="M498.4 1147.9L498.4 1151.4" stroke-width="2"/>
<rect x="346" y="1134.4" width="16" height="4" rx="0" stroke-width="1.8"/>
<rect x="479.6" y="1134.4" width="15.4" height="4" rx="0" stroke-width="1.8"/>
<path d="M350.3 1134.6L353.8 1081.6Q354 1079.6 356 1079.6L484.2 1079.6Q486.2 1079.6 486.4 1081.6L490.6 1134.6" stroke-width="2.8"/>
<path d="M356.2 1081L352.6 1134.6" stroke-width="1.5"/>
<path d="M484 1081L487.6 1134.6" stroke-width="1.5"/>
<path d="M371.4 1080.5L367.8 1138" stroke-width="1.8"/>
<path d="M373.6 1080.5L370.7 1138" stroke-width="1.8"/>
<path d="M467.3 1080.5L471.7 1138" stroke-width="1.8"/>
<path d="M470.2 1080.5L473.9 1138" stroke-width="1.8"/>
<rect x="488.4" y="1088.3" width="8.7" height="50.2" rx="0" stroke-width="1.8"/>
<path d="M497.1 1090.5L508.7 1090.5L508.7 1139.2L497.1 1139.2" stroke-width="1.8"/>
<path d="M497.1 1114.9L508.7 1114.9" stroke-width="1.7"/>
<rect x="509.6" y="1094.9" width="7.8" height="40" fill="#555" stroke="#222" stroke-width="1"/>
<path d="M517.4 1089.8L534.5 1089.8Q538.2 1102 536.5 1114.9Q538.2 1127 534.5 1139.2L517.4 1139.2Z" stroke-width="2"/>
<path d="M517.4 1114.9L536.5 1114.9" stroke-width="1.7"/>
<path d="M534.5 1089.8L539 1089.8Q549.4 1090.5 549.4 1102L549.4 1127Q549.4 1138.5 539 1139.2L534.5 1139.2" stroke-width="2"/>
<path d="M469 1079.3L672 1079.3" stroke-width="1.7"/>
<circle cx="956.6" cy="1290.3" r="132.6" stroke-width="2.1"/>
<circle cx="956.6" cy="1290.3" r="128.8" stroke-width="1.7"/>
<circle cx="956.6" cy="1290.3" r="125.5" stroke-width="2"/>
<circle cx="956.6" cy="1290.3" r="104.8" stroke-width="1.4" stroke-dasharray="3.4 1.7"/>
<circle cx="956.6" cy="1290.3" r="87.2" stroke-width="2.1"/>
<circle cx="956.6" cy="1290.3" r="80.8" stroke-width="2"/>
<circle cx="956.6" cy="1290.3" r="40" stroke-width="2.1"/>
<circle cx="956.6" cy="1290.3" r="35.2" stroke-width="2"/>
<circle cx="956.6" cy="1290.3" r="23.3" stroke-width="3.6"/>
<path d="M978.6 1282.3L984 1282.3L984 1297.5L978.6 1297.5" stroke-width="1.8"/>
<path d="M928.9 1258.8L928.9 1221.9A3.1 3.1 0 0 1 935.1 1221.9L935.1 1258.8" stroke-width="1.8"/>
<path d="M928.9 1321.8L928.9 1358.7A3.1 3.1 0 0 0 935.1 1358.7L935.1 1321.8" stroke-width="1.8"/>
<path d="M945.2 1251.2L945.2 1221.9A3.1 3.1 0 0 1 951.4 1221.9L951.4 1251.2" stroke-width="1.8"/>
<path d="M945.2 1329.4L945.2 1358.7A3.1 3.1 0 0 0 951.4 1358.7L951.4 1329.4" stroke-width="1.8"/>
<path d="M961.8 1251.2L961.8 1221.9A3.1 3.1 0 0 1 968 1221.9L968 1251.2" stroke-width="1.8"/>
<path d="M961.8 1329.4L961.8 1358.7A3.1 3.1 0 0 0 968 1358.7L968 1329.4" stroke-width="1.8"/>
<path d="M978.1 1258.8L978.1 1221.9A3.1 3.1 0 0 1 984.3 1221.9L984.3 1258.8" stroke-width="1.8"/>
<path d="M978.1 1321.8L978.1 1358.7A3.1 3.1 0 0 0 984.3 1358.7L984.3 1321.8" stroke-width="1.8"/>
<path d="M925.1 1262.6L890.2 1262.6A3.1 3.1 0 0 0 890.2 1268.8L925.1 1268.8" stroke-width="1.8"/>
<path d="M988.1 1262.6L1023 1262.6A3.1 3.1 0 0 1 1023 1268.8L988.1 1268.8" stroke-width="1.8"/>
<path d="M917.5 1278.9L887.2 1278.9A3.1 3.1 0 0 0 887.2 1285.1L917.5 1285.1" stroke-width="1.8"/>
<path d="M995.7 1278.9L1026 1278.9A3.1 3.1 0 0 1 1026 1285.1L995.7 1285.1" stroke-width="1.8"/>
<path d="M917.5 1295.5L887.2 1295.5A3.1 3.1 0 0 0 887.2 1301.7L917.5 1301.7" stroke-width="1.8"/>
<path d="M995.7 1295.5L1026 1295.5A3.1 3.1 0 0 1 1026 1301.7L995.7 1301.7" stroke-width="1.8"/>
<path d="M925.1 1311.8L890.2 1311.8A3.1 3.1 0 0 0 890.2 1318L925.1 1318" stroke-width="1.8"/>
<path d="M988.1 1311.8L1023 1311.8A3.1 3.1 0 0 1 1023 1318L988.1 1318" stroke-width="1.8"/>
<circle cx="1030.6" cy="1364.3" r="6.7" stroke-width="2.5"/>
<path d="M1019.6 1353.3L1041.5 1375.2" stroke-width="1.5"/>
<path d="M1035.3 1359.5L1025.8 1369" stroke-width="1.5"/>
<circle cx="882.6" cy="1364.3" r="6.7" stroke-width="2.5"/>
<path d="M893.6 1353.3L871.7 1375.2" stroke-width="1.5"/>
<path d="M887.4 1369L877.9 1359.5" stroke-width="1.5"/>
<circle cx="882.6" cy="1216.3" r="6.7" stroke-width="2.5"/>
<path d="M893.6 1227.3L871.7 1205.4" stroke-width="1.5"/>
<path d="M877.9 1221.1L887.4 1211.6" stroke-width="1.5"/>
<circle cx="1030.6" cy="1216.3" r="6.7" stroke-width="2.5"/>
<path d="M1019.6 1227.3L1041.5 1205.4" stroke-width="1.5"/>
<path d="M1025.8 1211.6L1035.3 1221.1" stroke-width="1.5"/>
<path d="M879 1150.4A160 160 0 0 0 866 1422.2" stroke-width="1.9"/>
<path d="M1034.2 1150.4A160 160 0 0 1 1047.2 1422.2" stroke-width="1.9"/>
<path d="M894.1 1437.6A160 160 0 0 0 1019.1 1437.6" stroke-width="1.9"/>
<path d="M879.9 1151.8A158.3 158.3 0 0 0 866.9 1420.8" stroke-width="1.2"/>
<path d="M1033.3 1151.8A158.3 158.3 0 0 1 1046.3 1420.8" stroke-width="1.2"/>
<path d="M894.7 1436A158.3 158.3 0 0 0 1018.5 1436" stroke-width="1.2"/>
<path d="M826 1230.2L822.4 1224.8L822.2 1214.1L827.6 1208.5L852 1208.5" stroke-width="2"/>
<path d="M1087.2 1230.2L1090.8 1224.8L1091 1214.1L1085.6 1208.5L1061.2 1208.5" stroke-width="2"/>
<path d="M826 1350.4L822.4 1355.8L822.2 1366.5L827.6 1372.1L852 1372.1" stroke-width="2"/>
<path d="M1087.2 1350.4L1090.8 1355.8L1091 1366.5L1085.6 1372.1L1061.2 1372.1" stroke-width="2"/>
<path d="M826 1230.2L826 1350.4" stroke-width="2"/>
<path d="M1087.2 1230.2L1087.2 1350.4" stroke-width="2"/>
<circle cx="833.3" cy="1219.1" r="3.3" stroke-width="2"/>
<path d="M825.3 1219.1L841.3 1219.1" stroke-width="1.5"/>
<path d="M833.3 1211.1L833.3 1227.1" stroke-width="1.5"/>
<circle cx="833.3" cy="1361.5" r="3.3" stroke-width="2"/>
<path d="M825.3 1361.5L841.3 1361.5" stroke-width="1.5"/>
<path d="M833.3 1353.5L833.3 1369.5" stroke-width="1.5"/>
<circle cx="1079.9" cy="1219.1" r="3.3" stroke-width="2"/>
<path d="M1071.9 1219.1L1087.9 1219.1" stroke-width="1.5"/>
<path d="M1079.9 1211.1L1079.9 1227.1" stroke-width="1.5"/>
<circle cx="1079.9" cy="1361.5" r="3.3" stroke-width="2"/>
<path d="M1071.9 1361.5L1087.9 1361.5" stroke-width="1.5"/>
<path d="M1079.9 1353.5L1079.9 1369.5" stroke-width="1.5"/>
<path d="M826 1254L805.1 1248M826.8 1251.2L805.9 1245.1" stroke-width="1.8"/>
<path d="M826 1273.9L800.6 1270.4M826.4 1271L801 1267.5" stroke-width="1.8"/>
<path d="M826 1293.4L799.3 1293.7M826 1290.4L799.3 1290.7" stroke-width="1.8"/>
<path d="M826.5 1313L801.6 1317.1M826 1310L801.1 1314.1" stroke-width="1.8"/>
<path d="M826.9 1332.8L807 1339M826 1329.9L806.1 1336.2" stroke-width="1.8"/>
<path d="M813.1 1225.8L822.7 1230.3A1.4 1.4 0 0 0 823.9 1227.7L814.3 1223.3" stroke-width="1.8"/>
<path d="M815.7 1360.1L825.2 1355.5A1.4 1.4 0 0 0 824 1353L814.4 1357.6" stroke-width="1.8"/>
<path d="M833.1 1210.1L824.7 1204.6M834.6 1208L826.1 1202.4" stroke-width="1.8"/>
<path d="M837 1374.1L827.7 1380.5M835.5 1371.9L826.2 1378.3" stroke-width="1.8"/>
<path d="M856.5 1202.7L838.4 1186.5M858.7 1200.2L840.7 1184" stroke-width="1.8"/>
<path d="M860.3 1382.1L842.5 1398.6M858 1379.6L840.2 1396.1" stroke-width="1.8"/>
<path d="M870 1189.4L857 1173.8A1.7 1.7 0 0 1 859.6 1171.6L872.6 1187.2" stroke-width="1.8"/>
<path d="M883.7 1179.1L880.4 1173.9A1.5 1.5 0 0 1 882.9 1172.3L886.2 1177.4" stroke-width="1.8"/>
<path d="M1086.4 1251.2L1107.3 1245.1M1087.2 1254L1108.1 1248" stroke-width="1.8"/>
<path d="M1086.8 1271L1112.2 1267.5M1087.2 1273.9L1112.6 1270.4" stroke-width="1.8"/>
<path d="M1087.2 1290.4L1113.9 1290.7M1087.2 1293.4L1113.9 1293.7" stroke-width="1.8"/>
<path d="M1087.2 1310L1112.1 1314.1M1086.7 1313L1111.6 1317.1" stroke-width="1.8"/>
<path d="M1087.2 1329.9L1107.1 1336.2M1086.3 1332.8L1106.2 1339" stroke-width="1.8"/>
<path d="M1098.9 1223.3L1089.3 1227.7A1.4 1.4 0 0 0 1090.5 1230.3L1100.1 1225.8" stroke-width="1.8"/>
<path d="M1098.8 1357.6L1089.2 1353A1.4 1.4 0 0 0 1088 1355.5L1097.5 1360.1" stroke-width="1.8"/>
<path d="M1078.6 1208L1087.1 1202.4M1080.1 1210.1L1088.5 1204.6" stroke-width="1.8"/>
<path d="M1077.7 1371.9L1087 1378.3M1076.2 1374.1L1085.5 1380.5" stroke-width="1.8"/>
<path d="M1054.5 1200.2L1072.5 1184M1056.7 1202.7L1074.8 1186.5" stroke-width="1.8"/>
<path d="M1055.2 1379.6L1073 1396.1M1052.9 1382.1L1070.7 1398.6" stroke-width="1.8"/>
<path d="M1040.6 1187.2L1053.6 1171.6A1.7 1.7 0 0 1 1056.2 1173.8L1043.2 1189.4" stroke-width="1.8"/>
<path d="M1027 1177.4L1030.3 1172.3A1.5 1.5 0 0 1 1032.8 1173.9L1029.5 1179.1" stroke-width="1.8"/>
<path d="M869.8 1391.1L854.2 1409.7" stroke-width="1.8"/>
<path d="M870.5 1395.6L856.8 1411.9" stroke-width="1.8"/>
<path d="M870.5 1395.6Q874.2 1395.9 875.3 1400.5" stroke-width="1.8"/>
<path d="M1043.4 1391.1L1059 1409.7" stroke-width="1.8"/>
<path d="M1042.7 1395.6L1056.4 1411.9" stroke-width="1.8"/>
<path d="M1042.7 1395.6Q1039 1395.9 1037.9 1400.5" stroke-width="1.8"/>
<path d="M915 1416.8L907 1439.9" stroke-width="1.8"/>
<path d="M911.5 1415.6L903.5 1438.7" stroke-width="1.8"/>
<path d="M936.7 1422L932.7 1446.1" stroke-width="1.8"/>
<path d="M933 1421.4L929 1445.5" stroke-width="1.8"/>
<path d="M980.2 1421.4L984.2 1445.5" stroke-width="1.8"/>
<path d="M976.5 1422L980.5 1446.1" stroke-width="1.8"/>
<path d="M1001.7 1415.6L1009.7 1438.7" stroke-width="1.8"/>
<path d="M998.2 1416.8L1006.2 1439.9" stroke-width="1.8"/>
<path d="M957.7 1423.5L957.7 1447.9" stroke-width="1.8"/>
<path d="M955.5 1423.5L955.5 1447.9" stroke-width="1.8"/>
<path d="M875.3 1400.5L867 1417.5L854 1439.5L805.3 1439.5L805.3 1454.5L815.1 1454.5L815.1 1452.3L841.8 1452.3L841.8 1454.5L858.7 1454.5L871.2 1431.3L896.8 1431.3L904.5 1417.7L910.2 1417.7" stroke-width="2.1"/>
<path d="M1037.9 1400.5L1046.2 1417.5L1059.2 1439.5L1107.9 1439.5L1107.9 1454.5L1098.1 1454.5L1098.1 1452.3L1071.4 1452.3L1071.4 1454.5L1054.5 1454.5L1042 1431.3L1016.4 1431.3L1008.7 1417.7L1003 1417.7" stroke-width="2.1"/>
<path d="M867 1417.7L894 1417.7L894 1419.5L897 1419.5L897 1417.7L904.5 1417.7" stroke-width="2"/>
<path d="M1046.2 1417.7L1019.2 1417.7L1019.2 1419.5L1016.2 1419.5L1016.2 1417.7L1008.7 1417.7" stroke-width="2"/>
<path d="M815.1 1439.5L815.1 1452.3" stroke-width="1.8"/>
<path d="M1098.1 1439.5L1098.1 1452.3" stroke-width="1.8"/>
<path d="M841.8 1439.5L841.8 1452.3" stroke-width="1.8"/>
<path d="M1071.4 1439.5L1071.4 1452.3" stroke-width="1.8"/>
<path d="M874 1432.1L874 1439.9L894.6 1439.9L894.6 1432.1" stroke-width="2"/>
<path d="M1039.2 1432.1L1039.2 1439.9L1018.6 1439.9L1018.6 1432.1" stroke-width="2"/>
<path d="M878.4 1432.1L878.4 1439.9" stroke-width="1.5"/>
<path d="M1034.8 1432.1L1034.8 1439.9" stroke-width="1.5"/>
<path d="M890.4 1432.1L890.4 1439.9" stroke-width="1.5"/>
<path d="M1022.8 1432.1L1022.8 1439.9" stroke-width="1.5"/>
<path d="M829 1430.7L829 1458.3" stroke-width="1.5"/>
<path d="M1084.2 1430.7L1084.2 1458.3" stroke-width="1.5"/>
<path d="M879.4 1151.3L879.4 1156.7L883 1157.3L884.5 1160.2L904.1 1160.2L907.7 1163.9L904.8 1167.5" stroke-width="2"/>
<path d="M1033.8 1151.3L1033.8 1156.7L1030.2 1157.3L1028.7 1160.2L1009.1 1160.2L1005.5 1163.9L1008.4 1167.5" stroke-width="2"/>
<path d="M779.6 1290.3L1152.6 1290.3" stroke-width="1.3" stroke-dasharray="3 1.5"/>
<path d="M796 1001L796 1295.3" stroke-width="1.7"/>
<path d="M1117.2 1001L1117.2 1295.3" stroke-width="1.7"/>
<path d="M796 1001.5L1117.2 1001.5" stroke-width="1.7"/>
<path d="M796 1001.5L812 997.1L812 1005.9Z" class="a"/>
<path d="M1117.2 1001.5L1101.2 1005.9L1101.2 997.1Z" class="a"/>
<text x="953.6" y="999" font-size="17.5" text-anchor="middle" class="t">AC</text>
<path d="M1116.6 1290.3L1161.8 1290.3" stroke-width="1.7"/>
<path d="M1106.6 1453.6L1195.3 1453.6" stroke-width="1.7"/>
<path d="M1161.2 1290.3L1161.2 1453.6" stroke-width="1.8"/>
<path d="M1161.2 1290.3L1165.6 1306.3L1156.8 1306.3Z" class="a"/>
<path d="M1161.2 1453.6L1156.8 1437.6L1165.6 1437.6Z" class="a"/>
<text x="1159.8" y="1371" font-size="18" text-anchor="middle" transform="rotate(-90 1159.8 1371)" class="t">H</text>
<path d="M1192.3 1053.4L1192.3 1453.6" stroke-width="1.8"/>
<path d="M1192.3 1053.4L1196.7 1069.4L1187.9 1069.4Z" class="a"/>
<path d="M1192.3 1453.6L1187.9 1437.6L1196.7 1437.6Z" class="a"/>
<text x="1190" y="1252.5" font-size="18" text-anchor="middle" transform="rotate(-90 1190 1252.5)" class="t">HD2</text>
<path d="M829 1430.7L829 1499" stroke-width="1.7"/>
<path d="M1084.2 1430.7L1084.2 1499" stroke-width="1.7"/>
<path d="M829 1495.6L1084.2 1495.6" stroke-width="1.7"/>
<path d="M829 1495.6L845 1491.2L845 1500Z" class="a"/>
<path d="M1084.2 1495.6L1068.2 1500L1068.2 1491.2Z" class="a"/>
<text x="953.5" y="1493.5" font-size="17.4" text-anchor="middle" class="t">A</text>
<path d="M805.3 1454L805.3 1526" stroke-width="1.7"/>
<path d="M1107.9 1454L1107.9 1526" stroke-width="1.7"/>
<path d="M805.3 1522.3L1107.9 1522.3" stroke-width="1.7"/>
<path d="M805.3 1522.3L821.3 1517.9L821.3 1526.7Z" class="a"/>
<path d="M1107.9 1522.3L1091.9 1526.7L1091.9 1517.9Z" class="a"/>
<text x="953.1" y="1520.1" font-size="17.4" text-anchor="middle" class="t">AB</text>
<text x="765.2" y="1220.4" font-size="16.8" text-anchor="middle" class="t">M</text>
<path d="M759.6 1223.1L770.7 1223.1" stroke-width="1.5"/>
<path d="M770.7 1223.2L1055.1 1326.7" stroke-width="1.6"/>
<text x="768.3" y="1329.8" font-size="16.8" text-anchor="middle" class="t">S</text>
<path d="M764.6 1332.8L773.3 1332.8" stroke-width="1.5"/>
<path d="M773.3 1332.8Q823.3 1352.2 882.1 1363.8" stroke-width="1.6"/>
<path d="M956.6 1028.2L956.6 1471" stroke-width="1.3" stroke-dasharray="3 1.5"/>
<path d="M879.6 1145L1034.6 1145" stroke-width="1.8"/>
<path d="M879.6 1148.2L1034.6 1148.2" stroke-width="1.8"/>
<path d="M879.4 1142.3L879.4 1151.4" stroke-width="2"/>
<path d="M1034.8 1142.3L1034.8 1151.4" stroke-width="2"/>
<path d="M879.4 1151.6L1034.8 1151.6" stroke-width="2"/>
<path d="M1035.2 1066.5L879.8 1066.5L867.6 1078.3L867.6 1131.8L879.8 1142.3L1040.6 1142.3" stroke-width="2.3"/>
<path d="M866.6 1096.7L1119.4 1096.7" stroke-width="2.1"/>
<path d="M866.6 1104.6L1119.4 1104.6" stroke-width="1.8"/>
<path d="M866.6 1112.5L1119.4 1112.5" stroke-width="2.1"/>
<path d="M866.6 1096.7L866.6 1112.5" stroke-width="2"/>
<path d="M1119.4 1096.7L1119.4 1112.5" stroke-width="2"/>
<path d="M1051 1053.6L1090.5 1053.6L1118.8 1068.8L1118.8 1130.2L1092.2 1152.2L1051 1152.2L1017.6 1124.8L1017.6 1081.8Z" fill="#fff" stroke-width="2.3"/>
<path d="M866.6 1096.7L1119.4 1096.7" stroke-width="2.1"/>
<path d="M866.6 1104.6L1119.4 1104.6" stroke-width="1.8"/>
<path d="M866.6 1112.5L1119.4 1112.5" stroke-width="2.1"/>
<path d="M956.6 1027.6L956.6 1060" stroke-width="1.7"/>
<path d="M1119.4 1027.6L1119.4 1100" stroke-width="1.7"/>
<path d="M956.6 1028.2L1119.4 1028.2" stroke-width="1.7"/>
<path d="M956.6 1028.2L972.6 1023.8L972.6 1032.6Z" class="a"/>
<path d="M1119.4 1028.2L1103.4 1032.6L1103.4 1023.8Z" class="a"/>
<text x="1035.5" y="1025.6" font-size="17" text-anchor="middle" class="t">AE</text>
<path d="M1074.6 1053.4L1195.6 1053.4" stroke-width="1.7"/>
<circle cx="1478.1" cy="1290.3" r="132.6" stroke-width="2.1"/>
<circle cx="1478.1" cy="1290.3" r="128.8" stroke-width="1.7"/>
<circle cx="1478.1" cy="1290.3" r="125.5" stroke-width="2"/>
<circle cx="1478.1" cy="1290.3" r="104.8" stroke-width="1.4" stroke-dasharray="3.4 1.7"/>
<circle cx="1478.1" cy="1290.3" r="87.2" stroke-width="2.1"/>
<circle cx="1478.1" cy="1290.3" r="80.8" stroke-width="2"/>
<circle cx="1478.1" cy="1290.3" r="40" stroke-width="2.1"/>
<circle cx="1478.1" cy="1290.3" r="35.2" stroke-width="2"/>
<circle cx="1478.1" cy="1290.3" r="23.3" stroke-width="3.6"/>
<path d="M1500.1 1282.3L1505.5 1282.3L1505.5 1297.5L1500.1 1297.5" stroke-width="1.8"/>
<path d="M1450.4 1258.8L1450.4 1221.9A3.1 3.1 0 0 1 1456.6 1221.9L1456.6 1258.8" stroke-width="1.8"/>
<path d="M1450.4 1321.8L1450.4 1358.7A3.1 3.1 0 0 0 1456.6 1358.7L1456.6 1321.8" stroke-width="1.8"/>
<path d="M1466.7 1251.2L1466.7 1221.9A3.1 3.1 0 0 1 1472.9 1221.9L1472.9 1251.2" stroke-width="1.8"/>
<path d="M1466.7 1329.4L1466.7 1358.7A3.1 3.1 0 0 0 1472.9 1358.7L1472.9 1329.4" stroke-width="1.8"/>
<path d="M1483.3 1251.2L1483.3 1221.9A3.1 3.1 0 0 1 1489.5 1221.9L1489.5 1251.2" stroke-width="1.8"/>
<path d="M1483.3 1329.4L1483.3 1358.7A3.1 3.1 0 0 0 1489.5 1358.7L1489.5 1329.4" stroke-width="1.8"/>
<path d="M1499.6 1258.8L1499.6 1221.9A3.1 3.1 0 0 1 1505.8 1221.9L1505.8 1258.8" stroke-width="1.8"/>
<path d="M1499.6 1321.8L1499.6 1358.7A3.1 3.1 0 0 0 1505.8 1358.7L1505.8 1321.8" stroke-width="1.8"/>
<path d="M1446.6 1262.6L1411.7 1262.6A3.1 3.1 0 0 0 1411.7 1268.8L1446.6 1268.8" stroke-width="1.8"/>
<path d="M1509.6 1262.6L1544.5 1262.6A3.1 3.1 0 0 1 1544.5 1268.8L1509.6 1268.8" stroke-width="1.8"/>
<path d="M1439 1278.9L1408.7 1278.9A3.1 3.1 0 0 0 1408.7 1285.1L1439 1285.1" stroke-width="1.8"/>
<path d="M1517.2 1278.9L1547.5 1278.9A3.1 3.1 0 0 1 1547.5 1285.1L1517.2 1285.1" stroke-width="1.8"/>
<path d="M1439 1295.5L1408.7 1295.5A3.1 3.1 0 0 0 1408.7 1301.7L1439 1301.7" stroke-width="1.8"/>
<path d="M1517.2 1295.5L1547.5 1295.5A3.1 3.1 0 0 1 1547.5 1301.7L1517.2 1301.7" stroke-width="1.8"/>
<path d="M1446.6 1311.8L1411.7 1311.8A3.1 3.1 0 0 0 1411.7 1318L1446.6 1318" stroke-width="1.8"/>
<path d="M1509.6 1311.8L1544.5 1311.8A3.1 3.1 0 0 1 1544.5 1318L1509.6 1318" stroke-width="1.8"/>
<circle cx="1552.1" cy="1364.3" r="6.7" stroke-width="2.5"/>
<path d="M1541.1 1353.3L1563 1375.2" stroke-width="1.5"/>
<path d="M1556.8 1359.5L1547.3 1369" stroke-width="1.5"/>
<circle cx="1404.1" cy="1364.3" r="6.7" stroke-width="2.5"/>
<path d="M1415.1 1353.3L1393.2 1375.2" stroke-width="1.5"/>
<path d="M1408.9 1369L1399.4 1359.5" stroke-width="1.5"/>
<circle cx="1404.1" cy="1216.3" r="6.7" stroke-width="2.5"/>
<path d="M1415.1 1227.3L1393.2 1205.4" stroke-width="1.5"/>
<path d="M1399.4 1221.1L1408.9 1211.6" stroke-width="1.5"/>
<circle cx="1552.1" cy="1216.3" r="6.7" stroke-width="2.5"/>
<path d="M1541.1 1227.3L1563 1205.4" stroke-width="1.5"/>
<path d="M1547.3 1211.6L1556.8 1221.1" stroke-width="1.5"/>
<path d="M1400.5 1150.4A160 160 0 0 0 1387.5 1422.2" stroke-width="1.9"/>
<path d="M1555.7 1150.4A160 160 0 0 1 1568.7 1422.2" stroke-width="1.9"/>
<path d="M1415.6 1437.6A160 160 0 0 0 1540.6 1437.6" stroke-width="1.9"/>
<path d="M1401.4 1151.8A158.3 158.3 0 0 0 1388.4 1420.8" stroke-width="1.2"/>
<path d="M1554.8 1151.8A158.3 158.3 0 0 1 1567.8 1420.8" stroke-width="1.2"/>
<path d="M1416.2 1436A158.3 158.3 0 0 0 1540 1436" stroke-width="1.2"/>
<path d="M1347.5 1230.2L1343.9 1224.8L1343.7 1214.1L1349.1 1208.5L1373.5 1208.5" stroke-width="2"/>
<path d="M1608.7 1230.2L1612.3 1224.8L1612.5 1214.1L1607.1 1208.5L1582.7 1208.5" stroke-width="2"/>
<path d="M1347.5 1350.4L1343.9 1355.8L1343.7 1366.5L1349.1 1372.1L1373.5 1372.1" stroke-width="2"/>
<path d="M1608.7 1350.4L1612.3 1355.8L1612.5 1366.5L1607.1 1372.1L1582.7 1372.1" stroke-width="2"/>
<path d="M1347.5 1230.2L1347.5 1350.4" stroke-width="2"/>
<path d="M1608.7 1230.2L1608.7 1350.4" stroke-width="2"/>
<circle cx="1354.8" cy="1219.1" r="3.3" stroke-width="2"/>
<path d="M1346.8 1219.1L1362.8 1219.1" stroke-width="1.5"/>
<path d="M1354.8 1211.1L1354.8 1227.1" stroke-width="1.5"/>
<circle cx="1354.8" cy="1361.5" r="3.3" stroke-width="2"/>
<path d="M1346.8 1361.5L1362.8 1361.5" stroke-width="1.5"/>
<path d="M1354.8 1353.5L1354.8 1369.5" stroke-width="1.5"/>
<circle cx="1601.4" cy="1219.1" r="3.3" stroke-width="2"/>
<path d="M1593.4 1219.1L1609.4 1219.1" stroke-width="1.5"/>
<path d="M1601.4 1211.1L1601.4 1227.1" stroke-width="1.5"/>
<circle cx="1601.4" cy="1361.5" r="3.3" stroke-width="2"/>
<path d="M1593.4 1361.5L1609.4 1361.5" stroke-width="1.5"/>
<path d="M1601.4 1353.5L1601.4 1369.5" stroke-width="1.5"/>
<path d="M1347.5 1254L1326.6 1248M1348.3 1251.2L1327.4 1245.1" stroke-width="1.8"/>
<path d="M1347.5 1273.9L1322.1 1270.4M1347.9 1271L1322.5 1267.5" stroke-width="1.8"/>
<path d="M1347.5 1293.4L1320.8 1293.7M1347.5 1290.4L1320.8 1290.7" stroke-width="1.8"/>
<path d="M1348 1313L1323.1 1317.1M1347.5 1310L1322.6 1314.1" stroke-width="1.8"/>
<path d="M1348.4 1332.8L1328.5 1339M1347.5 1329.9L1327.6 1336.2" stroke-width="1.8"/>
<path d="M1334.6 1225.8L1344.2 1230.3A1.4 1.4 0 0 0 1345.4 1227.7L1335.8 1223.3" stroke-width="1.8"/>
<path d="M1337.2 1360.1L1346.7 1355.5A1.4 1.4 0 0 0 1345.5 1353L1335.9 1357.6" stroke-width="1.8"/>
<path d="M1354.6 1210.1L1346.2 1204.6M1356.1 1208L1347.6 1202.4" stroke-width="1.8"/>
<path d="M1358.5 1374.1L1349.2 1380.5M1357 1371.9L1347.7 1378.3" stroke-width="1.8"/>
<path d="M1378 1202.7L1359.9 1186.5M1380.2 1200.2L1362.2 1184" stroke-width="1.8"/>
<path d="M1381.8 1382.1L1364 1398.6M1379.5 1379.6L1361.7 1396.1" stroke-width="1.8"/>
<path d="M1391.5 1189.4L1378.5 1173.8A1.7 1.7 0 0 1 1381.1 1171.6L1394.1 1187.2" stroke-width="1.8"/>
<path d="M1405.2 1179.1L1401.9 1173.9A1.5 1.5 0 0 1 1404.4 1172.3L1407.7 1177.4" stroke-width="1.8"/>
<path d="M1607.9 1251.2L1628.8 1245.1M1608.7 1254L1629.6 1248" stroke-width="1.8"/>
<path d="M1608.3 1271L1633.7 1267.5M1608.7 1273.9L1634.1 1270.4" stroke-width="1.8"/>
<path d="M1608.7 1290.4L1635.4 1290.7M1608.7 1293.4L1635.4 1293.7" stroke-width="1.8"/>
<path d="M1608.7 1310L1633.6 1314.1M1608.2 1313L1633.1 1317.1" stroke-width="1.8"/>
<path d="M1608.7 1329.9L1628.6 1336.2M1607.8 1332.8L1627.7 1339" stroke-width="1.8"/>
<path d="M1620.4 1223.3L1610.8 1227.7A1.4 1.4 0 0 0 1612 1230.3L1621.6 1225.8" stroke-width="1.8"/>
<path d="M1620.3 1357.6L1610.7 1353A1.4 1.4 0 0 0 1609.5 1355.5L1619 1360.1" stroke-width="1.8"/>
<path d="M1600.1 1208L1608.6 1202.4M1601.6 1210.1L1610 1204.6" stroke-width="1.8"/>
<path d="M1599.2 1371.9L1608.5 1378.3M1597.7 1374.1L1607 1380.5" stroke-width="1.8"/>
<path d="M1576 1200.2L1594 1184M1578.2 1202.7L1596.3 1186.5" stroke-width="1.8"/>
<path d="M1576.7 1379.6L1594.5 1396.1M1574.4 1382.1L1592.2 1398.6" stroke-width="1.8"/>
<path d="M1562.1 1187.2L1575.1 1171.6A1.7 1.7 0 0 1 1577.7 1173.8L1564.7 1189.4" stroke-width="1.8"/>
<path d="M1548.5 1177.4L1551.8 1172.3A1.5 1.5 0 0 1 1554.3 1173.9L1551 1179.1" stroke-width="1.8"/>
<path d="M1391.3 1391.1L1375.7 1409.7" stroke-width="1.8"/>
<path d="M1392 1395.6L1378.3 1411.9" stroke-width="1.8"/>
<path d="M1392 1395.6Q1395.7 1395.9 1396.8 1400.5" stroke-width="1.8"/>
<path d="M1564.9 1391.1L1580.5 1409.7" stroke-width="1.8"/>
<path d="M1564.2 1395.6L1577.9 1411.9" stroke-width="1.8"/>
<path d="M1564.2 1395.6Q1560.5 1395.9 1559.4 1400.5" stroke-width="1.8"/>
<path d="M1436.5 1416.8L1428.5 1439.9" stroke-width="1.8"/>
<path d="M1433 1415.6L1425 1438.7" stroke-width="1.8"/>
<path d="M1458.2 1422L1454.2 1446.1" stroke-width="1.8"/>
<path d="M1454.5 1421.4L1450.5 1445.5" stroke-width="1.8"/>
<path d="M1501.7 1421.4L1505.7 1445.5" stroke-width="1.8"/>
<path d="M1498 1422L1502 1446.1" stroke-width="1.8"/>
<path d="M1523.2 1415.6L1531.2 1438.7" stroke-width="1.8"/>
<path d="M1519.7 1416.8L1527.7 1439.9" stroke-width="1.8"/>
<path d="M1479.2 1423.5L1479.2 1447.9" stroke-width="1.8"/>
<path d="M1477 1423.5L1477 1447.9" stroke-width="1.8"/>
<path d="M1396.8 1400.5L1388.5 1417.5L1375.5 1439.5L1326.8 1439.5L1326.8 1454.5L1336.6 1454.5L1336.6 1452.3L1363.3 1452.3L1363.3 1454.5L1380.2 1454.5L1392.7 1431.3L1418.3 1431.3L1426 1417.7L1431.7 1417.7" stroke-width="2.1"/>
<path d="M1559.4 1400.5L1567.7 1417.5L1580.7 1439.5L1629.4 1439.5L1629.4 1454.5L1619.6 1454.5L1619.6 1452.3L1592.9 1452.3L1592.9 1454.5L1576 1454.5L1563.5 1431.3L1537.9 1431.3L1530.2 1417.7L1524.5 1417.7" stroke-width="2.1"/>
<path d="M1388.5 1417.7L1415.5 1417.7L1415.5 1419.5L1418.5 1419.5L1418.5 1417.7L1426 1417.7" stroke-width="2"/>
<path d="M1567.7 1417.7L1540.7 1417.7L1540.7 1419.5L1537.7 1419.5L1537.7 1417.7L1530.2 1417.7" stroke-width="2"/>
<path d="M1336.6 1439.5L1336.6 1452.3" stroke-width="1.8"/>
<path d="M1619.6 1439.5L1619.6 1452.3" stroke-width="1.8"/>
<path d="M1363.3 1439.5L1363.3 1452.3" stroke-width="1.8"/>
<path d="M1592.9 1439.5L1592.9 1452.3" stroke-width="1.8"/>
<path d="M1395.5 1432.1L1395.5 1439.9L1416.1 1439.9L1416.1 1432.1" stroke-width="2"/>
<path d="M1560.7 1432.1L1560.7 1439.9L1540.1 1439.9L1540.1 1432.1" stroke-width="2"/>
<path d="M1399.9 1432.1L1399.9 1439.9" stroke-width="1.5"/>
<path d="M1556.3 1432.1L1556.3 1439.9" stroke-width="1.5"/>
<path d="M1411.9 1432.1L1411.9 1439.9" stroke-width="1.5"/>
<path d="M1544.3 1432.1L1544.3 1439.9" stroke-width="1.5"/>
<path d="M1350.5 1430.7L1350.5 1458.3" stroke-width="1.5"/>
<path d="M1605.7 1430.7L1605.7 1458.3" stroke-width="1.5"/>
<path d="M1400.9 1151.3L1400.9 1156.7L1404.5 1157.3L1406 1160.2L1425.6 1160.2L1429.2 1163.9L1426.3 1167.5" stroke-width="2"/>
<path d="M1555.3 1151.3L1555.3 1156.7L1551.7 1157.3L1550.2 1160.2L1530.6 1160.2L1527 1163.9L1529.9 1167.5" stroke-width="2"/>
<path d="M1301.1 1290.3L1674.1 1290.3" stroke-width="1.3" stroke-dasharray="3 1.5"/>
<path d="M1317.5 1001L1317.5 1295.3" stroke-width="1.7"/>
<path d="M1638.7 1001L1638.7 1295.3" stroke-width="1.7"/>
<path d="M1317.5 1001.5L1638.7 1001.5" stroke-width="1.7"/>
<path d="M1317.5 1001.5L1333.5 997.1L1333.5 1005.9Z" class="a"/>
<path d="M1638.7 1001.5L1622.7 1005.9L1622.7 997.1Z" class="a"/>
<text x="1475.1" y="999" font-size="17.5" text-anchor="middle" class="t">AC</text>
<path d="M1638.1 1290.3L1683.3 1290.3" stroke-width="1.7"/>
<path d="M1628.1 1453.6L1716.8 1453.6" stroke-width="1.7"/>
<path d="M1682.7 1290.3L1682.7 1453.6" stroke-width="1.8"/>
<path d="M1682.7 1290.3L1687.1 1306.3L1678.3 1306.3Z" class="a"/>
<path d="M1682.7 1453.6L1678.3 1437.6L1687.1 1437.6Z" class="a"/>
<text x="1681.3" y="1371" font-size="18" text-anchor="middle" transform="rotate(-90 1681.3 1371)" class="t">H</text>
<path d="M1713.8 1053.4L1713.8 1453.6" stroke-width="1.8"/>
<path d="M1713.8 1053.4L1718.2 1069.4L1709.4 1069.4Z" class="a"/>
<path d="M1713.8 1453.6L1709.4 1437.6L1718.2 1437.6Z" class="a"/>
<text x="1711.5" y="1252.5" font-size="18" text-anchor="middle" transform="rotate(-90 1711.5 1252.5)" class="t">HD2</text>
<path d="M1350.5 1430.7L1350.5 1499" stroke-width="1.7"/>
<path d="M1605.7 1430.7L1605.7 1499" stroke-width="1.7"/>
<path d="M1350.5 1495.6L1605.7 1495.6" stroke-width="1.7"/>
<path d="M1350.5 1495.6L1366.5 1491.2L1366.5 1500Z" class="a"/>
<path d="M1605.7 1495.6L1589.7 1500L1589.7 1491.2Z" class="a"/>
<text x="1475" y="1493.5" font-size="17.4" text-anchor="middle" class="t">A</text>
<path d="M1326.8 1454L1326.8 1526" stroke-width="1.7"/>
<path d="M1629.4 1454L1629.4 1526" stroke-width="1.7"/>
<path d="M1326.8 1522.3L1629.4 1522.3" stroke-width="1.7"/>
<path d="M1326.8 1522.3L1342.8 1517.9L1342.8 1526.7Z" class="a"/>
<path d="M1629.4 1522.3L1613.4 1526.7L1613.4 1517.9Z" class="a"/>
<text x="1474.6" y="1520.1" font-size="17.4" text-anchor="middle" class="t">AB</text>
<text x="1286.7" y="1220.4" font-size="16.8" text-anchor="middle" class="t">M</text>
<path d="M1281.1 1223.1L1292.2 1223.1" stroke-width="1.5"/>
<path d="M1292.2 1223.2L1576.6 1326.7" stroke-width="1.6"/>
<text x="1289.8" y="1329.8" font-size="16.8" text-anchor="middle" class="t">S</text>
<path d="M1286.1 1332.8L1294.8 1332.8" stroke-width="1.5"/>
<path d="M1294.8 1332.8Q1344.8 1352.2 1403.6 1363.8" stroke-width="1.6"/>
<path d="M1478.1 1028.2L1478.1 1471" stroke-width="1.3" stroke-dasharray="3 1.5"/>
<path d="M1401.1 1145L1556.1 1145" stroke-width="1.8"/>
<path d="M1401.1 1148.2L1556.1 1148.2" stroke-width="1.8"/>
<path d="M1400.9 1142.3L1400.9 1151.4" stroke-width="2"/>
<path d="M1556.3 1142.3L1556.3 1151.4" stroke-width="2"/>
<path d="M1400.9 1151.6L1556.3 1151.6" stroke-width="2"/>
<path d="M1401.1 1066.2L1556.7 1066.2" stroke-width="2.3"/>
<path d="M1401.1 1142.3L1562.1 1142.3" stroke-width="2.3"/>
<path d="M1315.3 1096.7L1640.9 1096.7" stroke-width="2.1"/>
<path d="M1315.3 1104.6L1640.9 1104.6" stroke-width="1.8"/>
<path d="M1315.3 1112.5L1640.9 1112.5" stroke-width="2.1"/>
<path d="M1315.3 1096.7L1315.3 1112.5" stroke-width="2"/>
<path d="M1640.9 1096.7L1640.9 1112.5" stroke-width="2"/>
<path d="M1572.5 1053.6L1612 1053.6L1640.3 1068.8L1640.3 1130.2L1613.7 1152.2L1572.5 1152.2L1539.1 1124.8L1539.1 1081.8Z" fill="#fff" stroke-width="2.3"/>
<path d="M1383.7 1053.6L1344.2 1053.6L1315.9 1068.8L1315.9 1130.2L1342.5 1152.2L1383.7 1152.2L1417.1 1124.8L1417.1 1081.8Z" fill="#fff" stroke-width="2.3"/>
<path d="M1315.3 1096.7L1640.9 1096.7" stroke-width="2.1"/>
<path d="M1315.3 1104.6L1640.9 1104.6" stroke-width="1.8"/>
<path d="M1315.3 1112.5L1640.9 1112.5" stroke-width="2.1"/>
<path d="M1478.1 1027.6L1478.1 1060" stroke-width="1.7"/>
<path d="M1640.9 1027.6L1640.9 1100" stroke-width="1.7"/>
<path d="M1478.1 1028.2L1640.9 1028.2" stroke-width="1.7"/>
<path d="M1478.1 1028.2L1494.1 1023.8L1494.1 1032.6Z" class="a"/>
<path d="M1640.9 1028.2L1624.9 1032.6L1624.9 1023.8Z" class="a"/>
<text x="1557" y="1025.6" font-size="17" text-anchor="middle" class="t">AE</text>
<path d="M1596.1 1053.4L1717.1 1053.4" stroke-width="1.7"/>
</svg>
<div class="abs cap" style="left:272.5px;top:1586px">YS/YU Mounting position</div>
<div class="abs cap" style="left:806.5px;top:1586px">YY/YC Mounting position</div>
<div class="abs cap" style="left:1329.5px;top:1586px">YL Mounting position</div>
<div id="tbar"><svg width="24" height="46" style="position:absolute;left:0;top:0"><polygon points="0,0 13,0 0.6,22.7 13,45.4 0,45.4" fill="#0a66b5"/><polygon points="13,0 18.2,0 5.4,22.7 18.2,45.4 13,45.4 0.6,22.7" fill="#fff"/></svg><div class="t">B34 Mounting position Technical Parameters</div></div>
<table class="tb"><colgroup><col style="width:110px"><col style="width:71.75px"><col style="width:71.75px"><col style="width:71.75px"><col style="width:71.75px"><col style="width:71.75px"><col style="width:71.75px"><col style="width:71.75px"><col style="width:71.75px"><col style="width:71.75px"><col style="width:71.75px"><col style="width:71.75px"><col style="width:71.75px"><col style="width:71.75px"><col style="width:71.75px"><col style="width:71.75px"><col style="width:71.75px"><col style="width:71.75px"><col style="width:71.75px"><col style="width:71.75px"><col style="width:71.75px"><col style="width:101px"></colgroup>
<tr class="h1"><th rowspan="2" class="nl fs">Frame<br>size</th><th colspan="6">Forfilomtry</th><th colspan="10" class="ms">Mounted size</th><th colspan="4">Shaft Extension</th><th rowspan="2" class="nr">Kg</th></tr>
<tr class="h2"><th>AB</th><th>AC</th><th>AE</th><th>HD1</th><th>HD2</th><th>L</th><th>A</th><th>B</th><th>C</th><th>H</th><th>K</th><th>P</th><th>N</th><th>T</th><th>M</th><th>S</th><th>E</th><th>F</th><th>D</th><th>G</th></tr>
<tr class="d "><td class="nl b">56</td><td>108</td><td>112</td><td>73</td><td>139</td><td>152</td><td>204</td><td>90</td><td>71</td><td>36</td><td>56</td><td><span class="phi">ϕ</span><span class="pn nw">5.8</span></td><td><span class="phi">ϕ</span><span class="pn nw">82</span></td><td><span class="phi">ϕ</span><span class="pn">50</span></td><td>2.5</td><td><span class="phi">ϕ</span><span class="pn">65</span></td><td>M5</td><td>20</td><td>3</td><td>9</td><td>7.2</td><td class="nr">4.6</td></tr>
<tr class="d alt"><td class="nl b">63</td><td>121</td><td>122</td><td>73</td><td>151</td><td>162</td><td>211</td><td>100</td><td>80</td><td>40</td><td>63</td><td><span class="phi">ϕ</span><span class="pn">7</span></td><td><span class="phi">ϕ</span><span class="pn nw">90</span></td><td><span class="phi">ϕ</span><span class="pn">60</span></td><td>2.5</td><td><span class="phi">ϕ</span><span class="pn">75</span></td><td>M5</td><td>23</td><td>4</td><td>11</td><td>8.5</td><td class="nr">6.1</td></tr>
<tr class="d "><td class="nl b">71</td><td>138</td><td>138</td><td>73</td><td>164</td><td>176</td><td>247</td><td>112</td><td>90</td><td>45</td><td>71</td><td><span class="phi">ϕ</span><span class="pn">7</span></td><td><span class="phi">ϕ</span><span class="pn nw">107</span></td><td><span class="phi">ϕ</span><span class="pn">70</span></td><td>3</td><td><span class="phi">ϕ</span><span class="pn">85</span></td><td>M6</td><td>30</td><td>5</td><td>14</td><td>11</td><td class="nr">8.8</td></tr>
<tr class="d alt"><td class="nl b">80</td><td>150</td><td>156</td><td>89</td><td>188</td><td>202</td><td>270</td><td>125</td><td>100</td><td>50</td><td>80</td><td><span class="phi">ϕ</span><span class="pn">10</span></td><td><span class="phi">ϕ</span><span class="pn nw">124</span></td><td><span class="phi">ϕ</span><span class="pn">80</span></td><td>3</td><td><span class="phi">ϕ</span><span class="pn nw">100</span></td><td>M6</td><td>40</td><td>6</td><td>19</td><td><span class="pn nw" style="margin-right:-9px">15.5</span></td><td class="nr">13.7</td></tr>
<tr class="d "><td class="nl b">90S</td><td>166</td><td>176</td><td>89</td><td>206</td><td>220</td><td>312</td><td>140</td><td>100</td><td>56</td><td>90</td><td><span class="phi">ϕ</span><span class="pn">10</span></td><td><span class="phi">ϕ</span><span class="pn nw2">139.5</span></td><td><span class="phi">ϕ</span><span class="pn">95</span></td><td>3.5</td><td><span class="phi">ϕ</span><span class="pn nw">115</span></td><td>M8</td><td>50</td><td>8</td><td>24</td><td>20</td><td class="nr">14.6</td></tr>
<tr class="d alt"><td class="nl b">90L</td><td>166</td><td>176</td><td>89</td><td>206</td><td>220</td><td>339</td><td>140</td><td>125</td><td>56</td><td>90</td><td><span class="phi">ϕ</span><span class="pn">10</span></td><td><span class="phi">ϕ</span><span class="pn nw2">139.5</span></td><td><span class="phi">ϕ</span><span class="pn">95</span></td><td>3.5</td><td><span class="phi">ϕ</span><span class="pn nw">115</span></td><td>M8</td><td>50</td><td>8</td><td>24</td><td>20</td><td class="nr">19.1</td></tr>
<tr class="d "><td class="nl b">100L</td><td>193</td><td>184</td><td></td><td>237</td><td></td><td>379</td><td>160</td><td>140</td><td>63</td><td>100</td><td><span class="phi">ϕ</span><span class="pn">12</span></td><td><span class="phi">ϕ</span><span class="pn nw">160</span></td><td><span class="phi">ϕ</span><span class="pn nw">110</span></td><td>3.5</td><td><span class="phi">ϕ</span><span class="pn nw">130</span></td><td>M8</td><td>60</td><td>8</td><td>28</td><td>24</td><td class="nr">26</td></tr>
<tr class="d alt"><td class="nl b">112M</td><td>226</td><td>207</td><td></td><td>255</td><td></td><td>395</td><td>190</td><td>140</td><td>70</td><td>112</td><td><span class="phi">ϕ</span><span class="pn">12</span></td><td><span class="phi">ϕ</span><span class="pn nw">160</span></td><td><span class="phi">ϕ</span><span class="pn nw">110</span></td><td>3.5</td><td><span class="phi">ϕ</span><span class="pn nw">130</span></td><td>M8</td><td>60</td><td>8</td><td>28</td><td>24</td><td class="nr">38</td></tr>
<tr class="d "><td class="nl b">132S</td><td>250</td><td>244</td><td></td><td>297</td><td></td><td>505</td><td>216</td><td>140</td><td>89</td><td>132</td><td><span class="phi">ϕ</span><span class="pn">12</span></td><td><span class="phi">ϕ</span><span class="pn nw2">209.5</span></td><td><span class="phi">ϕ</span><span class="pn nw">130</span></td><td>4</td><td><span class="phi">ϕ</span><span class="pn nw">165</span></td><td>M10</td><td>80</td><td>10</td><td>38</td><td>33</td><td class="nr">48.5</td></tr>
<tr class="d alt"><td class="nl b">132M</td><td>250</td><td>244</td><td></td><td>297</td><td></td><td>505</td><td>216</td><td>178</td><td>89</td><td>132</td><td><span class="phi">ϕ</span><span class="pn">12</span></td><td><span class="phi">ϕ</span><span class="pn nw2">209.5</span></td><td><span class="phi">ϕ</span><span class="pn nw">130</span></td><td>4</td><td><span class="phi">ϕ</span><span class="pn nw">165</span></td><td>M10</td><td>80</td><td>10</td><td>38</td><td>33</td><td class="nr">53.5</td></tr>
</table>
<div id="foot1" class="abs" style="left:136px">www.tymotor.net</div>
<div id="foot2" class="abs" style="left:449px">0757-85561181</div>
</body></html>
